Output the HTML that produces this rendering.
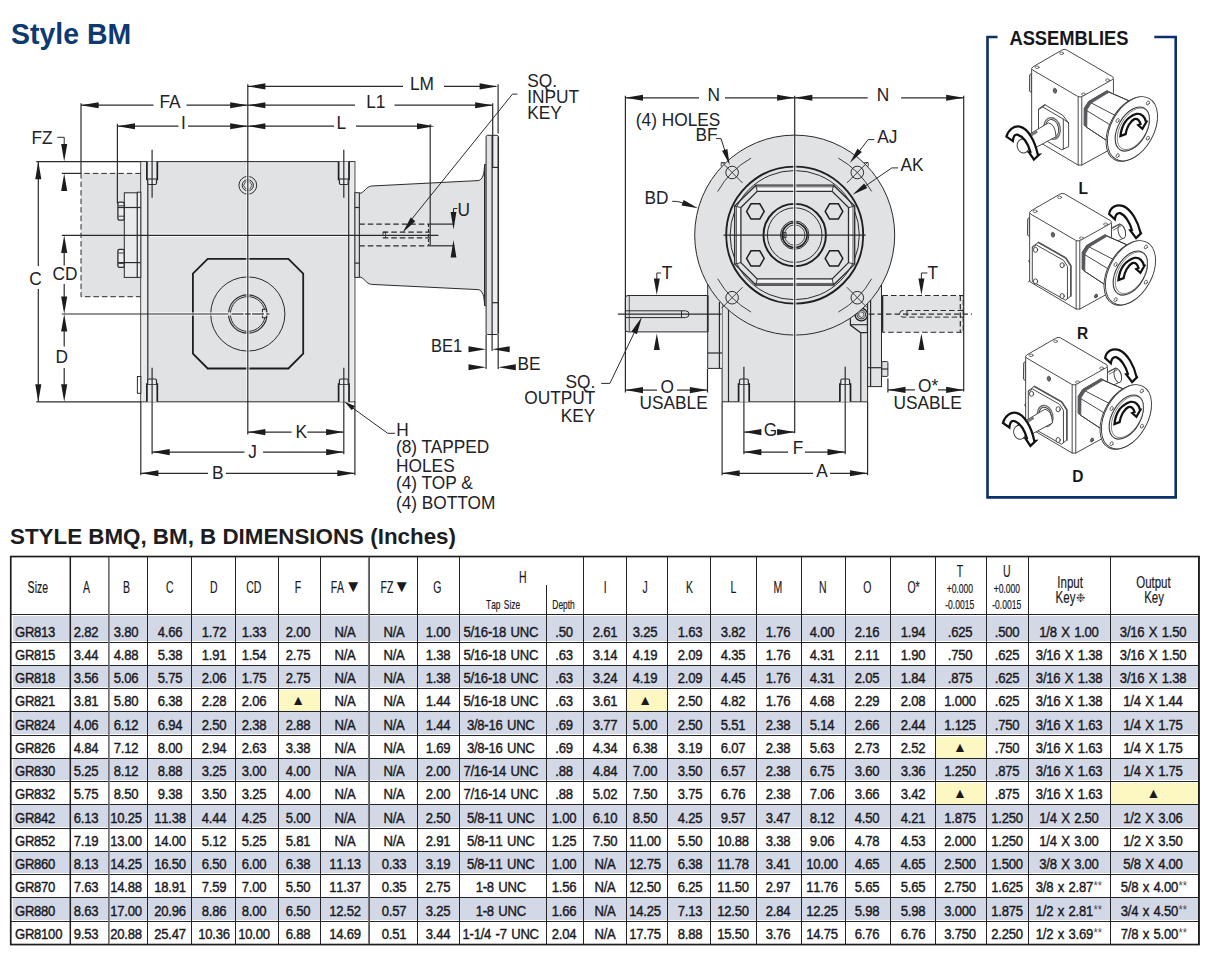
<!DOCTYPE html>
<html lang="en">
<head>
<meta charset="utf-8">
<title>Style BM - Style BMQ, BM, B Dimensions (Inches)</title>
<style>
html,body{margin:0;padding:0;background:#fff;}
body{width:1214px;height:978px;position:relative;overflow:hidden;font-family:"Liberation Sans",sans-serif;color:#222226;}
svg{position:absolute;left:0;top:0;z-index:2;pointer-events:none;}
svg text{font-family:"Liberation Sans",sans-serif;}
h1{position:absolute;left:11px;top:17px;margin:0;font-size:29px;line-height:34px;font-weight:bold;color:#0d3a70;white-space:nowrap;transform-origin:0 50%;transform:scaleX(0.981);letter-spacing:0;}
h2{position:absolute;left:10px;top:524px;margin:0;font-size:22.36px;line-height:26px;font-weight:bold;color:#1d1d21;white-space:nowrap;}

table.dim{position:absolute;left:10px;top:556px;border-collapse:collapse;table-layout:fixed;width:1188.4px;font-size:15px;color:#1a1a1e;}
table.dim td,table.dim th{border:1px solid #242428;padding:0;text-align:center;white-space:nowrap;overflow:visible;font-weight:normal;position:relative;}
table.dim th{vertical-align:top;font-size:16.3px;}
table.dim td{vertical-align:bottom;}
table.dim tr.s td{background:#d3d8e7;box-shadow:inset 0 -1px 0 0 #fff;}
table.dim tr.s.f td{box-shadow:inset 0 1px 0 0 #fff,inset 0 -1px 0 0 #fff;}
table.dim td.y{background:#fdf8c2 !important;box-shadow:inset 0 1px 0 0 #fff;}
table.dim .c{display:flex;justify-content:center;line-height:1;position:relative;}
table.dim td .c{padding-bottom:3.0px;}
table.dim tr.s td.l{box-shadow:inset 2px 0 0 0 #fff,inset 0 -1px 0 0 #fff;}
table.dim tr.s.f td.l{box-shadow:inset 2px 1px 0 0 #fff,inset 0 -1px 0 0 #fff;}
table.dim td.l .c{justify-content:flex-start;padding-left:4.1px;}
table.dim .t{display:inline-block;font-kerning:none;transform:scaleX(0.872);transform-origin:50% 50%;white-space:nowrap;letter-spacing:-0.3px;word-spacing:1.3px;-webkit-text-stroke:0.42px #1a1a1e;}
table.dim td.l .t{transform-origin:0 50%;}
table.dim th .h{position:absolute;left:0;right:0;display:flex;justify-content:center;line-height:1;}
table.dim th .t{transform:scaleX(0.645);-webkit-text-stroke:0.2px #1a1a1e;letter-spacing:0;}
table.dim th .w .t{transform:scaleX(0.705);}
table.dim th .sm{font-size:12.4px;}
table.dim th .sm .t{transform:scaleX(0.68);}
table.dim th .tol{font-size:12.2px;}
table.dim th .tol .t{transform:scaleX(0.70);}
table.dim .tri{font-size:14px;transform:none;-webkit-text-stroke:0;letter-spacing:0;position:relative;top:-0.8px;}
table.dim th .dn .t{font-size:17px;transform:none;-webkit-text-stroke:0;}
table.dim .ast{font-family:"DejaVu Sans",sans-serif;font-size:12px;display:inline-block;transform:scaleX(1.3);-webkit-text-stroke:0;transform-origin:0 50%;position:relative;top:-1px;left:0.5px;color:#444;}
table.dim .st{font-size:12.5px;color:#4a4a4e;-webkit-text-stroke:0;position:relative;top:-1.6px;letter-spacing:0;margin-left:0.6px;}
table.dim th i.div{position:absolute;width:1px;background:#242428;top:28px;bottom:0;}

</style>
</head>
<body>
<h1>Style BM</h1>
<svg width="1214" height="978" viewBox="0 0 1214 978">
<g id="view-side">
<rect x="81" y="173.4" width="59.8" height="123.3" fill="#e1e2e4" stroke="none" stroke-width="0"/>
<path d="M140.8 173.4 L81 173.4 L81 296.7 L140.8 296.7" fill="none" stroke="#2b2b2e" stroke-width="1" stroke-dasharray="5.5 3"/>
<rect x="140.8" y="161.6" width="214.1" height="240.2" fill="#e1e2e4" stroke="#2b2b2e" stroke-width="1"/>
<rect x="141.4" y="162.2" width="5.8" height="239" fill="#e9eaec" stroke="none" stroke-width="0"/>
<rect x="349.2" y="162.2" width="5.1" height="239" fill="#e9eaec" stroke="none" stroke-width="0"/>
<line x1="147.8" y1="161.6" x2="147.8" y2="401.8" stroke="#2b2b2e" stroke-width="1.2"/>
<line x1="348.7" y1="161.6" x2="348.7" y2="401.8" stroke="#2b2b2e" stroke-width="1.2"/>
<rect x="124.3" y="192.8" width="13" height="84.6" fill="#e9eaec" stroke="#2b2b2e" stroke-width="1"/>
<rect x="137.3" y="192.2" width="3.5" height="85.2" fill="#eeeef0" stroke="#2b2b2e" stroke-width="1"/>
<rect x="117.9" y="202.2" width="6.3" height="17.9" fill="#ececee" stroke="#2b2b2e" stroke-width="1.3" rx="1.6"/>
<line x1="118.5" y1="205.8" x2="124" y2="205.8" stroke="#2b2b2e" stroke-width="0.9"/>
<line x1="118.5" y1="216.2" x2="124" y2="216.2" stroke="#2b2b2e" stroke-width="0.9"/>
<rect x="117.9" y="249.4" width="6.3" height="17.9" fill="#ececee" stroke="#2b2b2e" stroke-width="1.3" rx="1.6"/>
<line x1="118.5" y1="253" x2="124" y2="253" stroke="#2b2b2e" stroke-width="0.9"/>
<line x1="118.5" y1="263.4" x2="124" y2="263.4" stroke="#2b2b2e" stroke-width="0.9"/>
<line x1="117.9" y1="207.5" x2="140.8" y2="207.5" stroke="#2b2b2e" stroke-width="1.2"/>
<line x1="117.9" y1="262.6" x2="140.8" y2="262.6" stroke="#2b2b2e" stroke-width="1.2"/>
<rect x="137.4" y="376.5" width="3.4" height="16.8" fill="#fff" stroke="#2b2b2e" stroke-width="1"/>
<rect x="146.9" y="161.6" width="10.4" height="17.8" fill="#e9eaec" stroke="none" stroke-width="0"/><path d="M146.9 161.6 L146.9 179.4 L157.3 179.4 L157.3 161.6" fill="none" stroke="#1e1e21" stroke-width="1.7"/><path d="M147.7 179.4 L147.7 183 Q147.7 184.5 149.1 184.5 L155.1 184.5 Q156.5 184.5 156.5 183 L156.5 179.4" fill="#e9eaec" stroke="#2b2b2e" stroke-width="1.2"/><line x1="152.1" y1="149.8" x2="152.1" y2="197.8" stroke="#2b2b2e" stroke-width="1.2"/>
<rect x="338.6" y="161.6" width="10.4" height="17.8" fill="#e9eaec" stroke="none" stroke-width="0"/><path d="M338.6 161.6 L338.6 179.4 L349 179.4 L349 161.6" fill="none" stroke="#1e1e21" stroke-width="1.7"/><path d="M339.4 179.4 L339.4 183 Q339.4 184.5 340.8 184.5 L346.8 184.5 Q348.2 184.5 348.2 183 L348.2 179.4" fill="#e9eaec" stroke="#2b2b2e" stroke-width="1.2"/><line x1="343.8" y1="149.8" x2="343.8" y2="197.8" stroke="#2b2b2e" stroke-width="1.2"/>
<rect x="146.9" y="384" width="10.4" height="17.8" fill="#e9eaec" stroke="none" stroke-width="0"/><path d="M146.9 401.8 L146.9 384 L157.3 384 L157.3 401.8" fill="none" stroke="#1e1e21" stroke-width="1.7"/><path d="M147.7 384 L147.7 380.5 Q147.7 379 149.1 379 L155.1 379 Q156.5 379 156.5 380.5 L156.5 384" fill="#e9eaec" stroke="#2b2b2e" stroke-width="1.2"/>
<rect x="338.6" y="384" width="10.4" height="17.8" fill="#e9eaec" stroke="none" stroke-width="0"/><path d="M338.6 401.8 L338.6 384 L349 384 L349 401.8" fill="none" stroke="#1e1e21" stroke-width="1.7"/><path d="M339.4 384 L339.4 380.5 Q339.4 379 340.8 379 L346.8 379 Q348.2 379 348.2 380.5 L348.2 384" fill="#e9eaec" stroke="#2b2b2e" stroke-width="1.2"/>
<line x1="152.1" y1="367.8" x2="152.1" y2="454.3" stroke="#2b2b2e" stroke-width="1.2"/>
<line x1="343.8" y1="367.8" x2="343.8" y2="454.3" stroke="#2b2b2e" stroke-width="1.2"/>
<circle cx="247.8" cy="185.3" r="8.9" fill="#e1e2e4" stroke="#2b2b2e" stroke-width="1"/>
<circle cx="247.8" cy="185.3" r="5.6" fill="none" stroke="#2b2b2e" stroke-width="1"/>
<path d="M252 185.3 L249.9 188.94 L245.7 188.94 L243.6 185.3 L245.7 181.66 L249.9 181.66 Z" fill="none" stroke="#2b2b2e" stroke-width="0.8"/>
<path d="M207.7 258.9 L288.4 258.9 L303.2 273.7 L303.2 353.7 L288.4 368.5 L207.7 368.5 L192.9 353.7 L192.9 273.7 Z" fill="none" stroke="#1e1e21" stroke-width="1.8"/>
<circle cx="247.8" cy="314" r="37.1" fill="none" stroke="#2b2b2e" stroke-width="1"/>
<circle cx="247.8" cy="314" r="19.2" fill="none" stroke="#2b2b2e" stroke-width="1.2"/>
<circle cx="247.8" cy="314" r="17.4" fill="none" stroke="#2b2b2e" stroke-width="1"/>
<rect x="262.4" y="309.3" width="4" height="8.4" fill="#e1e2e4" stroke="#2b2b2e" stroke-width="1"/>
<path d="M359.3 193.4 C364 193.4 366 186.3 371.7 186 L477.9 180.6 C482.5 180.3 484.5 174 484.5 164.5 L486.1 164.5 L486.1 305.7 L484.5 305.7 C484.5 296.2 482.5 289.9 477.9 289.6 L371.7 284.4 C366 284.1 364 277 359.3 277 Z" fill="#e1e2e4" stroke="#2b2b2e" stroke-width="1"/>
<line x1="484.5" y1="165" x2="484.5" y2="305.2" stroke="#2b2b2e" stroke-width="1"/>
<rect x="354.9" y="192.7" width="4.4" height="84.7" fill="#e1e2e4" stroke="#2b2b2e" stroke-width="1"/>
<line x1="354.9" y1="207.5" x2="359.3" y2="207.5" stroke="#2b2b2e" stroke-width="1.2"/>
<line x1="354.9" y1="263.1" x2="359.3" y2="263.1" stroke="#2b2b2e" stroke-width="1.2"/>
<rect x="486.1" y="135.3" width="12.2" height="199.2" fill="#e1e2e4" stroke="#2b2b2e" stroke-width="1" rx="1.5"/>
<rect x="492.1" y="136" width="5.6" height="197.8" fill="#ededef" stroke="none" stroke-width="0"/>
<line x1="492.1" y1="135.5" x2="492.1" y2="334.3" stroke="#2b2b2e" stroke-width="1.2"/>
<line x1="492.1" y1="167.4" x2="498.3" y2="167.4" stroke="#2b2b2e" stroke-width="1.2"/>
<line x1="492.1" y1="302.7" x2="498.3" y2="302.7" stroke="#2b2b2e" stroke-width="1.2"/>
<line x1="498.3" y1="136.5" x2="498.3" y2="333.5" stroke="#2b2b2e" stroke-width="1.5"/>
<line x1="359.3" y1="224.1" x2="428.5" y2="224.1" stroke="#2b2b2e" stroke-width="1.2" stroke-dasharray="5.5 3"/>
<line x1="359.3" y1="245.8" x2="428.5" y2="245.8" stroke="#2b2b2e" stroke-width="1.2" stroke-dasharray="5.5 3"/>
<line x1="382.8" y1="232.2" x2="429.7" y2="232.2" stroke="#2b2b2e" stroke-width="1.2" stroke-dasharray="5.5 3"/>
<line x1="382.8" y1="237.9" x2="429.7" y2="237.9" stroke="#2b2b2e" stroke-width="1.2" stroke-dasharray="5.5 3"/>
<line x1="428.5" y1="224.1" x2="428.5" y2="245.8" stroke="#2b2b2e" stroke-width="1.2" stroke-dasharray="3 2"/>
<path d="M387 232.2 L383 232.2 L383 235.2 M385.5 232.2 L385.5 237.9" fill="none" stroke="#2b2b2e" stroke-width="0.8"/>
<line x1="247.8" y1="162.5" x2="247.8" y2="400.5" stroke="#fff" stroke-width="3.4" opacity="0.7"/>
<line x1="149" y1="235.3" x2="347.5" y2="235.3" stroke="#fff" stroke-width="3.4" opacity="0.7"/>
<line x1="149" y1="314" x2="269.5" y2="314" stroke="#fff" stroke-width="3.4" opacity="0.7"/>
<line x1="247.8" y1="84.2" x2="247.8" y2="434.6" stroke="#2b2b2e" stroke-width="1.2"/>
<line x1="61.8" y1="235.3" x2="438.4" y2="235.3" stroke="#2b2b2e" stroke-width="1.2"/>
<line x1="61.8" y1="314" x2="228" y2="314" stroke="#2b2b2e" stroke-width="1.2"/>
<line x1="231.5" y1="314" x2="243.5" y2="314" stroke="#2b2b2e" stroke-width="1.2"/>
<line x1="252" y1="314" x2="264" y2="314" stroke="#2b2b2e" stroke-width="1.2"/>
<line x1="266.5" y1="314" x2="269.5" y2="314" stroke="#2b2b2e" stroke-width="1.2"/>
<line x1="244.8" y1="314" x2="250.8" y2="314" stroke="#2b2b2e" stroke-width="1.2"/>
<line x1="36.3" y1="161.6" x2="140.8" y2="161.6" stroke="#2b2b2e" stroke-width="1.2"/>
<line x1="36.3" y1="401.8" x2="140.8" y2="401.8" stroke="#2b2b2e" stroke-width="1.2"/>
<line x1="38.3" y1="161.6" x2="38.3" y2="266" stroke="#2b2b2e" stroke-width="1.2"/>
<line x1="38.3" y1="289" x2="38.3" y2="401.8" stroke="#2b2b2e" stroke-width="1.2"/>
<polygon points="38.3,161.6 41.35,179.2 35.25,179.2" fill="#1c1c1f"/>
<polygon points="38.3,401.8 35.25,384.2 41.35,384.2" fill="#1c1c1f"/>
<text transform="translate(29.2 284.9) scale(1.0 1.04)" font-size="17.3" text-anchor="start" font-weight="normal" fill="#222226">C</text>
<line x1="61.8" y1="173.4" x2="81" y2="173.4" stroke="#2b2b2e" stroke-width="1.2"/>
<path d="M57.3 137.3 L64.2 137.3 L64.2 150" fill="none" stroke="#2b2b2e" stroke-width="1"/>
<polygon points="64.2,161.6 61.15,144 67.25,144" fill="#1c1c1f"/>
<polygon points="64.2,173.4 67.25,191 61.15,191" fill="#1c1c1f"/>
<text transform="translate(31.4 144) scale(1.0 1.04)" font-size="17.3" text-anchor="start" font-weight="normal" fill="#222226">FZ</text>
<polygon points="64.2,235.3 67.25,252.9 61.15,252.9" fill="#1c1c1f"/>
<line x1="64.2" y1="250" x2="64.2" y2="265.5" stroke="#2b2b2e" stroke-width="1.2"/>
<text transform="translate(52.4 280) scale(1.0 1.04)" font-size="17.3" text-anchor="start" font-weight="normal" fill="#222226">CD</text>
<line x1="64.2" y1="284" x2="64.2" y2="300" stroke="#2b2b2e" stroke-width="1.2"/>
<polygon points="64.2,314 61.15,296.4 67.25,296.4" fill="#1c1c1f"/>
<polygon points="64.2,314 67.25,331.6 61.15,331.6" fill="#1c1c1f"/>
<line x1="64.2" y1="330" x2="64.2" y2="346.5" stroke="#2b2b2e" stroke-width="1.2"/>
<text transform="translate(55.6 363.4) scale(1.0 1.04)" font-size="17.3" text-anchor="start" font-weight="normal" fill="#222226">D</text>
<line x1="64.2" y1="368" x2="64.2" y2="386" stroke="#2b2b2e" stroke-width="1.2"/>
<polygon points="64.2,401.8 61.15,384.2 67.25,384.2" fill="#1c1c1f"/>
<line x1="81" y1="103.2" x2="81" y2="173.4" stroke="#2b2b2e" stroke-width="1.2"/>
<line x1="81" y1="105.2" x2="153.5" y2="105.2" stroke="#2b2b2e" stroke-width="1.2"/>
<line x1="186.5" y1="105.2" x2="247.8" y2="105.2" stroke="#2b2b2e" stroke-width="1.2"/>
<polygon points="81,105.2 98.6,102.15 98.6,108.25" fill="#1c1c1f"/>
<polygon points="247.8,105.2 230.2,108.25 230.2,102.15" fill="#1c1c1f"/>
<text transform="translate(159.4 108.2) scale(1.0 1.04)" font-size="17.3" text-anchor="start" font-weight="normal" fill="#222226">FA</text>
<line x1="117.4" y1="123.8" x2="117.4" y2="203.3" stroke="#2b2b2e" stroke-width="1.2"/>
<line x1="117.4" y1="126.2" x2="178.5" y2="126.2" stroke="#2b2b2e" stroke-width="1.2"/>
<line x1="188" y1="126.2" x2="247.8" y2="126.2" stroke="#2b2b2e" stroke-width="1.2"/>
<polygon points="117.4,126.2 135,123.15 135,129.25" fill="#1c1c1f"/>
<polygon points="247.8,126.2 230.2,129.25 230.2,123.15" fill="#1c1c1f"/>
<text transform="translate(181 129.2) scale(1.0 1.04)" font-size="17.3" text-anchor="start" font-weight="normal" fill="#222226">I</text>
<line x1="247.8" y1="86.4" x2="403" y2="86.4" stroke="#2b2b2e" stroke-width="1.2"/>
<line x1="444" y1="86.4" x2="496.4" y2="86.4" stroke="#2b2b2e" stroke-width="1.2"/>
<polygon points="247.8,86.4 265.4,83.35 265.4,89.45" fill="#1c1c1f"/>
<polygon points="497.2,86.4 479.6,89.45 479.6,83.35" fill="#1c1c1f"/>
<line x1="498.1" y1="84.2" x2="498.1" y2="133.6" stroke="#2b2b2e" stroke-width="1.2"/>
<text transform="translate(410 89.7) scale(1.0 1.04)" font-size="17.3" text-anchor="start" font-weight="normal" fill="#222226">LM</text>
<line x1="247.8" y1="105.2" x2="355" y2="105.2" stroke="#2b2b2e" stroke-width="1.2"/>
<line x1="394.5" y1="105.2" x2="492.7" y2="105.2" stroke="#2b2b2e" stroke-width="1.2"/>
<polygon points="247.8,105.2 265.4,102.15 265.4,108.25" fill="#1c1c1f"/>
<polygon points="492.7,105.2 475.1,108.25 475.1,102.15" fill="#1c1c1f"/>
<line x1="492.7" y1="103.2" x2="492.7" y2="167.5" stroke="#2b2b2e" stroke-width="1.2"/>
<text transform="translate(366.2 108.2) scale(1.0 1.04)" font-size="17.3" text-anchor="start" font-weight="normal" fill="#222226">L1</text>
<line x1="247.8" y1="126.2" x2="334" y2="126.2" stroke="#2b2b2e" stroke-width="1.2"/>
<line x1="356" y1="126.2" x2="425" y2="126.2" stroke="#2b2b2e" stroke-width="1.2"/>
<polygon points="247.8,126.2 265.4,123.15 265.4,129.25" fill="#1c1c1f"/>
<polygon points="434.6,126.2 417,129.25 417,123.15" fill="#1c1c1f"/>
<line x1="430.2" y1="124.2" x2="430.2" y2="245.3" stroke="#2b2b2e" stroke-width="1.2"/>
<text transform="translate(336.6 128.7) scale(1.0 1.04)" font-size="17.3" text-anchor="start" font-weight="normal" fill="#222226">L</text>
<line x1="428.5" y1="224.1" x2="454.4" y2="224.1" stroke="#2b2b2e" stroke-width="1.2"/>
<line x1="428.5" y1="245.8" x2="454.4" y2="245.8" stroke="#2b2b2e" stroke-width="1.2"/>
<path d="M457.4 208.5 L453.5 208.5 L453.5 213" fill="none" stroke="#2b2b2e" stroke-width="1"/>
<polygon points="453.5,229.5 450.6,212 456.4,212" fill="#1c1c1f"/>
<polygon points="453.5,240.1 456.4,257.6 450.6,257.6" fill="#1c1c1f"/>
<text transform="translate(457.4 215.7) scale(1.0 1.04)" font-size="17.3" text-anchor="start" font-weight="normal" fill="#222226">U</text>
<path d="M517.4 94.1 L512.5 94.1 L411 220" fill="none" stroke="#2b2b2e" stroke-width="1"/>
<polygon points="402.7,232.4 410.75,217.6 415.29,221.2" fill="#1c1c1f"/>
<text transform="translate(527.3 86.7) scale(1.0 1.04)" font-size="17.3" text-anchor="start" font-weight="normal" fill="#222226">SQ.</text>
<text transform="translate(527.3 103.2) scale(1.0 1.04)" font-size="17.3" text-anchor="start" font-weight="normal" fill="#222226">INPUT</text>
<text transform="translate(527.3 119.3) scale(1.0 1.04)" font-size="17.3" text-anchor="start" font-weight="normal" fill="#222226">KEY</text>
<line x1="486.1" y1="334.5" x2="486.1" y2="369" stroke="#2b2b2e" stroke-width="1.2"/>
<line x1="492.1" y1="334.5" x2="492.1" y2="351" stroke="#2b2b2e" stroke-width="1.2"/>
<line x1="498.2" y1="334.5" x2="498.2" y2="369" stroke="#2b2b2e" stroke-width="1.2"/>
<polygon points="486.1,349.3 468.5,352.35 468.5,346.25" fill="#1c1c1f"/>
<polygon points="492.1,349.3 509.7,346.25 509.7,352.35" fill="#1c1c1f"/>
<polygon points="486.1,367.3 468.5,370.35 468.5,364.25" fill="#1c1c1f"/>
<polygon points="498.2,367.3 515.8,364.25 515.8,370.35" fill="#1c1c1f"/>
<text transform="translate(430.9 351.8) scale(0.955 1.04)" font-size="17.3" text-anchor="start" font-weight="normal" fill="#222226">BE1</text>
<text transform="translate(517.4 369.6) scale(1.0 1.04)" font-size="17.3" text-anchor="start" font-weight="normal" fill="#222226">BE</text>
<line x1="247.8" y1="432.1" x2="291.6" y2="432.1" stroke="#2b2b2e" stroke-width="1.2"/>
<line x1="307.4" y1="432.1" x2="343.7" y2="432.1" stroke="#2b2b2e" stroke-width="1.2"/>
<polygon points="247.8,432.1 265.4,429.05 265.4,435.15" fill="#1c1c1f"/>
<polygon points="343.7,432.1 326.1,435.15 326.1,429.05" fill="#1c1c1f"/>
<text transform="translate(295.5 438) scale(1.0 1.04)" font-size="17.3" text-anchor="start" font-weight="normal" fill="#222226">K</text>
<line x1="152.1" y1="452.1" x2="244.5" y2="452.1" stroke="#2b2b2e" stroke-width="1.2"/>
<line x1="263" y1="452.1" x2="343.8" y2="452.1" stroke="#2b2b2e" stroke-width="1.2"/>
<polygon points="152.1,452.1 169.7,449.05 169.7,455.15" fill="#1c1c1f"/>
<polygon points="343.8,452.1 326.2,455.15 326.2,449.05" fill="#1c1c1f"/>
<text transform="translate(248.3 458) scale(1.0 1.04)" font-size="17.3" text-anchor="start" font-weight="normal" fill="#222226">J</text>
<line x1="140.8" y1="401.8" x2="140.8" y2="475.3" stroke="#2b2b2e" stroke-width="1.2"/>
<line x1="354.9" y1="401.8" x2="354.9" y2="475.3" stroke="#2b2b2e" stroke-width="1.2"/>
<line x1="140.8" y1="473.3" x2="208" y2="473.3" stroke="#2b2b2e" stroke-width="1.2"/>
<line x1="226" y1="473.3" x2="354.9" y2="473.3" stroke="#2b2b2e" stroke-width="1.2"/>
<polygon points="140.8,473.3 158.4,470.25 158.4,476.35" fill="#1c1c1f"/>
<polygon points="354.9,473.3 337.3,476.35 337.3,470.25" fill="#1c1c1f"/>
<text transform="translate(212 479) scale(1.0 1.04)" font-size="17.3" text-anchor="start" font-weight="normal" fill="#222226">B</text>
<path d="M395.1 433.3 L387.7 433.3 L352 407.5" fill="none" stroke="#2b2b2e" stroke-width="1"/>
<polygon points="344.5,401.7 354.91,406.1 351.84,410.29" fill="#1c1c1f"/>
<text transform="translate(396.3 436.1) scale(1.0 1.04)" font-size="17.3" text-anchor="start" font-weight="normal" fill="#222226">H</text>
<text transform="translate(395.9 453.4) scale(1.0 1.04)" font-size="17.3" text-anchor="start" font-weight="normal" fill="#222226">(8) TAPPED</text>
<text transform="translate(396.1 471.9) scale(1.0 1.04)" font-size="17.3" text-anchor="start" font-weight="normal" fill="#222226">HOLES</text>
<text transform="translate(395.9 489.2) scale(1.0 1.04)" font-size="17.3" text-anchor="start" font-weight="normal" fill="#222226">(4) TOP &amp;</text>
<text transform="translate(395.9 508.8) scale(1.0 1.04)" font-size="17.3" text-anchor="start" font-weight="normal" fill="#222226">(4) BOTTOM</text>
<text transform="translate(595.3 387.6) scale(1.0 1.04)" font-size="17.3" text-anchor="end" font-weight="normal" fill="#222226">SQ.</text>
<text transform="translate(595.3 404.3) scale(1.0 1.04)" font-size="17.3" text-anchor="end" font-weight="normal" fill="#222226">OUTPUT</text>
<text transform="translate(595.3 421.5) scale(1.0 1.04)" font-size="17.3" text-anchor="end" font-weight="normal" fill="#222226">KEY</text>
</g>
<g id="view-front">
<path d="M722.1 300 L722.1 401.8 L867.6 401.8 L867.6 300" fill="#e1e2e4" stroke="#2b2b2e" stroke-width="1"/>
<rect x="867.6" y="284.5" width="13.9" height="102.1" fill="#e1e2e4" stroke="#2b2b2e" stroke-width="1"/>
<line x1="870.6" y1="300" x2="870.6" y2="386.6" stroke="#2b2b2e" stroke-width="1.2"/>
<line x1="867.6" y1="367.7" x2="881.5" y2="367.7" stroke="#2b2b2e" stroke-width="1.2"/>
<rect x="881.8" y="361.6" width="6.1" height="14.8" fill="#e1e2e4" stroke="#2b2b2e" stroke-width="1" rx="1"/>
<line x1="881.8" y1="369" x2="887.9" y2="369" stroke="#2b2b2e" stroke-width="1.2"/>
<path d="M722.1 284.3 L707.7 284.3 L707.7 368.4 L722.1 368.4" fill="#e1e2e4" stroke="#2b2b2e" stroke-width="1"/>
<line x1="719.4" y1="302" x2="719.4" y2="368.4" stroke="#2b2b2e" stroke-width="1.2"/>
<line x1="707.7" y1="353" x2="722.1" y2="353" stroke="#2b2b2e" stroke-width="1.2"/>
<path d="M707.7 295.5 L628 295.5 Q625.4 295.5 625.4 298 L625.4 329.4 Q625.4 331.9 628 331.9 L707.7 331.9 Z" fill="#e1e2e4" stroke="#2b2b2e" stroke-width="1"/>
<line x1="629.3" y1="296" x2="629.3" y2="331.5" stroke="#2b2b2e" stroke-width="0.8"/>
<path d="M625.4 310.8 L685.5 310.8 A3.5 3.4 0 0 1 685.5 317.6 L625.4 317.6 M681.5 310.8 L681.5 317.6" fill="none" stroke="#2b2b2e" stroke-width="1"/>
<line x1="707.7" y1="295.5" x2="707.7" y2="331.9" stroke="#2b2b2e" stroke-width="1.6"/>
<rect x="882.5" y="295.5" width="80.7" height="36.8" fill="#e1e2e4" stroke="none" stroke-width="0"/>
<path d="M882.5 295.5 L963.2 295.5 L963.2 332.3 L882.5 332.3" fill="none" stroke="#2b2b2e" stroke-width="1" stroke-dasharray="5.5 3"/>
<line x1="960.3" y1="295.5" x2="960.3" y2="332.3" stroke="#2b2b2e" stroke-width="1.2" stroke-dasharray="5.5 3"/>
<path d="M963 310.5 L903 310.5 A3.4 3.3 0 0 0 903 317.1 L963 317.1 M907 310.5 L907 317.1" fill="none" stroke="#2b2b2e" stroke-width="1" stroke-dasharray="5.5 3"/>
<line x1="882.5" y1="295.5" x2="882.5" y2="332.3" stroke="#2b2b2e" stroke-width="1.6"/>
<line x1="869" y1="314.1" x2="972" y2="314.1" stroke="#2b2b2e" stroke-width="1.2" stroke-dasharray="5.5 3"/>
<line x1="728.5" y1="309" x2="728.5" y2="401.8" stroke="#2b2b2e" stroke-width="1.2"/>
<line x1="860.8" y1="332.6" x2="860.8" y2="401.8" stroke="#2b2b2e" stroke-width="1.2"/>
<path d="M850.4 312 L850.4 325.1 L860.4 332.6 L867.4 332.6 L867.4 312" fill="#e1e2e4" stroke="#2b2b2e" stroke-width="1.2"/>
<line x1="850.4" y1="324.7" x2="867.2" y2="324.7" stroke="#2b2b2e" stroke-width="1.1"/>
<circle cx="861.3" cy="314.6" r="6.3" fill="#e1e2e4" stroke="#1e1e21" stroke-width="1.4"/>
<circle cx="861.3" cy="314.6" r="4.3" fill="none" stroke="#2b2b2e" stroke-width="1.0"/>
<path d="M864.03 315.59 L861.8 317.46 L859.08 316.46 L858.57 313.61 L860.8 311.74 L863.52 312.74 Z" fill="none" stroke="#2b2b2e" stroke-width="0.8"/>
<circle cx="794.7" cy="235.1" r="100" fill="#e1e2e4" stroke="#2b2b2e" stroke-width="1"/>
<path d="M725.2 162.6 L721.2 162.6 L721.2 166.6" fill="none" stroke="#2b2b2e" stroke-width="0.9"/>
<path d="M864.2 162.6 L868.2 162.6 L868.2 166.6" fill="none" stroke="#2b2b2e" stroke-width="0.9"/>
<circle cx="794.7" cy="235.1" r="68.5" fill="none" stroke="#1e1e21" stroke-width="1.9"/>
<circle cx="794.7" cy="235.1" r="64.6" fill="none" stroke="#2b2b2e" stroke-width="1"/>
<path d="M755.9 185.2 L833.5 185.2 L832.2 191.3 L757.2 191.3 Z" fill="#f6f6f7" stroke="none" stroke-width="0"/>
<path d="M854.7 206.1 L854.7 264.1 L848.5 262.6 L848.5 207.6 Z" fill="#f6f6f7" stroke="none" stroke-width="0"/>
<path d="M833.5 285 L755.9 285 L757.2 278.9 L832.2 278.9 Z" fill="#f6f6f7" stroke="none" stroke-width="0"/>
<path d="M734.7 264.1 L734.7 206.1 L740.9 207.6 L740.9 262.6 Z" fill="#f6f6f7" stroke="none" stroke-width="0"/>
<path d="M755.9 185.2 L833.5 185.2 L854.7 206.1 L854.7 264.1 L833.5 285 L755.9 285 L734.7 264.1 L734.7 206.1 Z" fill="none" stroke="#2b2b2e" stroke-width="1.3"/>
<path d="M757.2 191.3 L832.2 191.3 L848.5 207.6 L848.5 262.6 L832.2 278.9 L757.2 278.9 L740.9 262.6 L740.9 207.6 Z" fill="none" stroke="#2b2b2e" stroke-width="1.3"/>
<line x1="755.2" y1="186.8" x2="834.2" y2="186.8" stroke="#2b2b2e" stroke-width="0.8"/>
<line x1="755.2" y1="283.4" x2="834.2" y2="283.4" stroke="#2b2b2e" stroke-width="0.8"/>
<line x1="736.4" y1="206.1" x2="736.4" y2="264.1" stroke="#2b2b2e" stroke-width="0.8"/>
<line x1="853" y1="206.1" x2="853" y2="264.1" stroke="#2b2b2e" stroke-width="0.8"/>
<line x1="755.9" y1="185.2" x2="757.2" y2="191.3" stroke="#2b2b2e" stroke-width="0.9"/>
<line x1="833.5" y1="185.2" x2="832.2" y2="191.3" stroke="#2b2b2e" stroke-width="0.9"/>
<line x1="854.7" y1="206.1" x2="848.5" y2="207.6" stroke="#2b2b2e" stroke-width="0.9"/>
<line x1="854.7" y1="264.1" x2="848.5" y2="262.6" stroke="#2b2b2e" stroke-width="0.9"/>
<line x1="833.5" y1="285" x2="832.2" y2="278.9" stroke="#2b2b2e" stroke-width="0.9"/>
<line x1="755.9" y1="285" x2="757.2" y2="278.9" stroke="#2b2b2e" stroke-width="0.9"/>
<line x1="734.7" y1="264.1" x2="740.9" y2="262.6" stroke="#2b2b2e" stroke-width="0.9"/>
<line x1="734.7" y1="206.1" x2="740.9" y2="207.6" stroke="#2b2b2e" stroke-width="0.9"/>
<path d="M764.2 211.4 L759.8 219.02 L751 219.02 L746.6 211.4 L751 203.78 L759.8 203.78 Z" fill="none" stroke="#1e1e21" stroke-width="1.5"/>
<path d="M842.8 211.4 L838.4 219.02 L829.6 219.02 L825.2 211.4 L829.6 203.78 L838.4 203.78 Z" fill="none" stroke="#1e1e21" stroke-width="1.5"/>
<path d="M764.2 258.4 L759.8 266.02 L751 266.02 L746.6 258.4 L751 250.78 L759.8 250.78 Z" fill="none" stroke="#1e1e21" stroke-width="1.5"/>
<path d="M842.8 258.4 L838.4 266.02 L829.6 266.02 L825.2 258.4 L829.6 250.78 L838.4 250.78 Z" fill="none" stroke="#1e1e21" stroke-width="1.5"/>
<circle cx="794.7" cy="235.1" r="31.2" fill="none" stroke="#1e1e21" stroke-width="1.9"/>
<circle cx="794.7" cy="235.1" r="27.3" fill="none" stroke="#2b2b2e" stroke-width="1"/>
<circle cx="794.7" cy="235.1" r="14.2" fill="none" stroke="#2b2b2e" stroke-width="1"/>
<circle cx="794.7" cy="235.1" r="12.4" fill="none" stroke="#1e1e21" stroke-width="1.6"/>
<circle cx="794.7" cy="235.1" r="10.2" fill="none" stroke="#2b2b2e" stroke-width="0.8"/>
<rect x="783.4" y="232.6" width="2.7" height="5" fill="none" stroke="#2b2b2e" stroke-width="0.8"/>
<circle cx="732.1" cy="172.5" r="6.3" fill="none" stroke="#2b2b2e" stroke-width="1"/>
<line x1="742.6" y1="183" x2="721.6" y2="162" stroke="#2b2b2e" stroke-width="0.9"/>
<path d="M717.7 191.48 A88.5 88.5 0 0 1 751.08 158.1" fill="none" stroke="#2b2b2e" stroke-width="0.9"/>
<circle cx="732.1" cy="297.7" r="6.3" fill="none" stroke="#2b2b2e" stroke-width="1"/>
<line x1="742.6" y1="287.2" x2="721.6" y2="308.2" stroke="#2b2b2e" stroke-width="0.9"/>
<path d="M751.08 312.1 A88.5 88.5 0 0 1 717.7 278.72" fill="none" stroke="#2b2b2e" stroke-width="0.9"/>
<circle cx="857.3" cy="172.5" r="6.3" fill="none" stroke="#2b2b2e" stroke-width="1"/>
<line x1="846.8" y1="183" x2="867.8" y2="162" stroke="#2b2b2e" stroke-width="0.9"/>
<path d="M838.32 158.1 A88.5 88.5 0 0 1 871.7 191.48" fill="none" stroke="#2b2b2e" stroke-width="0.9"/>
<circle cx="857.3" cy="297.7" r="6.3" fill="none" stroke="#2b2b2e" stroke-width="1"/>
<line x1="846.8" y1="287.2" x2="867.8" y2="308.2" stroke="#2b2b2e" stroke-width="0.9"/>
<path d="M871.7 278.72 A88.5 88.5 0 0 1 838.32 312.1" fill="none" stroke="#2b2b2e" stroke-width="0.9"/>
<rect x="738.6" y="384" width="10.6" height="17.8" fill="#e9eaec" stroke="none" stroke-width="0"/>
<path d="M738.6 401.8 L738.6 384 L749.2 384 L749.2 401.8" fill="none" stroke="#1e1e21" stroke-width="1.7"/>
<path d="M739.5 384 L739.5 380.5 Q739.5 379 740.9 379 L746.9 379 Q748.3 379 748.3 380.5 L748.3 384" fill="#e9eaec" stroke="#2b2b2e" stroke-width="1.2"/>
<line x1="743.9" y1="366.8" x2="743.9" y2="454.3" stroke="#2b2b2e" stroke-width="1.2"/>
<rect x="839.9" y="384" width="10.6" height="17.8" fill="#e9eaec" stroke="none" stroke-width="0"/>
<path d="M839.9 401.8 L839.9 384 L850.5 384 L850.5 401.8" fill="none" stroke="#1e1e21" stroke-width="1.7"/>
<path d="M840.8 384 L840.8 380.5 Q840.8 379 842.2 379 L848.2 379 Q849.6 379 849.6 380.5 L849.6 384" fill="#e9eaec" stroke="#2b2b2e" stroke-width="1.2"/>
<line x1="845.2" y1="366.8" x2="845.2" y2="454.3" stroke="#2b2b2e" stroke-width="1.2"/>
<line x1="794.7" y1="136.5" x2="794.7" y2="400.5" stroke="#fff" stroke-width="3.4" opacity="0.7"/>
<line x1="794.7" y1="95.8" x2="794.7" y2="433.3" stroke="#2b2b2e" stroke-width="1.2"/>
<line x1="723.5" y1="235.1" x2="865.6" y2="235.1" stroke="#2b2b2e" stroke-width="1.2"/>
<line x1="617.9" y1="314.1" x2="721.6" y2="314.1" stroke="#2b2b2e" stroke-width="1.2"/>
<line x1="625.4" y1="95.8" x2="625.4" y2="392.5" stroke="#2b2b2e" stroke-width="1.2"/>
<line x1="963.7" y1="95.8" x2="963.7" y2="391.6" stroke="#2b2b2e" stroke-width="1.2"/>
<line x1="625.4" y1="97.8" x2="699" y2="97.8" stroke="#2b2b2e" stroke-width="1.2"/>
<line x1="725" y1="97.8" x2="794.7" y2="97.8" stroke="#2b2b2e" stroke-width="1.2"/>
<line x1="794.7" y1="97.8" x2="867.7" y2="97.8" stroke="#2b2b2e" stroke-width="1.2"/>
<line x1="901.1" y1="97.8" x2="963.7" y2="97.8" stroke="#2b2b2e" stroke-width="1.2"/>
<polygon points="625.4,97.8 643,94.75 643,100.85" fill="#1c1c1f"/>
<polygon points="794.7,97.8 777.1,100.85 777.1,94.75" fill="#1c1c1f"/>
<polygon points="794.7,97.8 812.3,94.75 812.3,100.85" fill="#1c1c1f"/>
<polygon points="963.7,97.8 946.1,100.85 946.1,94.75" fill="#1c1c1f"/>
<text transform="translate(707.5 100.8) scale(1.0 1.04)" font-size="17.3" text-anchor="start" font-weight="normal" fill="#222226">N</text>
<text transform="translate(876.7 100.8) scale(1.0 1.04)" font-size="17.3" text-anchor="start" font-weight="normal" fill="#222226">N</text>
<text transform="translate(635.8 125.5) scale(1.0 1.04)" font-size="17.3" text-anchor="start" font-weight="normal" fill="#222226">(4) HOLES</text>
<text transform="translate(695.6 141) scale(1.0 1.04)" font-size="17.3" text-anchor="start" font-weight="normal" fill="#222226">BF</text>
<path d="M716.1 138.6 L721 138.6 L726.6 156" fill="none" stroke="#2b2b2e" stroke-width="1"/>
<polygon points="729.7,165 722.03,150.68 727.35,148.93" fill="#1c1c1f"/>
<text transform="translate(644.5 204) scale(1.0 1.04)" font-size="17.3" text-anchor="start" font-weight="normal" fill="#222226">BD</text>
<path d="M672.2 201.3 C678 201 682 202.5 688 205" fill="none" stroke="#2b2b2e" stroke-width="1"/>
<polygon points="698.1,208.3 681.6,205.38 683.59,199.93" fill="#1c1c1f"/>
<text transform="translate(877.2 142.8) scale(1.0 1.04)" font-size="17.3" text-anchor="start" font-weight="normal" fill="#222226">AJ</text>
<path d="M874.3 139.6 L868.1 139.6 L856 155.5" fill="none" stroke="#2b2b2e" stroke-width="1"/>
<polygon points="849.8,163 857.45,148.67 861.86,152.12" fill="#1c1c1f"/>
<text transform="translate(900.5 170.9) scale(1.0 1.04)" font-size="17.3" text-anchor="start" font-weight="normal" fill="#222226">AK</text>
<path d="M898.2 167.9 L891.9 167.9 L863 187.6" fill="none" stroke="#2b2b2e" stroke-width="1"/>
<polygon points="852.5,194.7 864.15,183.39 867.3,188.02" fill="#1c1c1f"/>
<path d="M661 273 L656.8 273 L656.8 280" fill="none" stroke="#2b2b2e" stroke-width="1"/>
<polygon points="656.8,294.9 653.8,278.4 659.8,278.4" fill="#1c1c1f"/>
<polygon points="656.8,333.4 659.8,349.9 653.8,349.9" fill="#1c1c1f"/>
<text transform="translate(661.8 278.7) scale(1.0 1.04)" font-size="17.3" text-anchor="start" font-weight="normal" fill="#222226">T</text>
<path d="M927.4 273 L921.4 273 L921.4 280" fill="none" stroke="#2b2b2e" stroke-width="1"/>
<polygon points="921.4,294.9 918.4,278.4 924.4,278.4" fill="#1c1c1f"/>
<polygon points="921.4,333.4 924.4,349.9 918.4,349.9" fill="#1c1c1f"/>
<text transform="translate(927.4 278.7) scale(1.0 1.04)" font-size="17.3" text-anchor="start" font-weight="normal" fill="#222226">T</text>
<line x1="707.5" y1="369" x2="707.5" y2="392.5" stroke="#2b2b2e" stroke-width="1.2"/>
<line x1="625.4" y1="390.1" x2="657" y2="390.1" stroke="#2b2b2e" stroke-width="1.2"/>
<line x1="677" y1="390.1" x2="707.5" y2="390.1" stroke="#2b2b2e" stroke-width="1.2"/>
<polygon points="625.4,390.1 643,387.05 643,393.15" fill="#1c1c1f"/>
<polygon points="707.5,390.1 689.9,393.15 689.9,387.05" fill="#1c1c1f"/>
<text transform="translate(660.5 392.5) scale(1.0 1.04)" font-size="17.3" text-anchor="start" font-weight="normal" fill="#222226">O</text>
<text transform="translate(639.5 408.6) scale(1.0 1.04)" font-size="17.3" text-anchor="start" font-weight="normal" fill="#222226">USABLE</text>
<line x1="887.9" y1="378.4" x2="887.9" y2="392.5" stroke="#2b2b2e" stroke-width="1.2"/>
<line x1="887.9" y1="389.9" x2="915" y2="389.9" stroke="#2b2b2e" stroke-width="1.2"/>
<line x1="938" y1="389.9" x2="963.7" y2="389.9" stroke="#2b2b2e" stroke-width="1.2"/>
<polygon points="887.9,389.9 905.5,386.85 905.5,392.95" fill="#1c1c1f"/>
<polygon points="963.7,389.9 946.1,392.95 946.1,386.85" fill="#1c1c1f"/>
<text transform="translate(918 391.6) scale(1.0 1.04)" font-size="17.3" text-anchor="start" font-weight="normal" fill="#222226">O*</text>
<text transform="translate(893.5 408.6) scale(1.0 1.04)" font-size="17.3" text-anchor="start" font-weight="normal" fill="#222226">USABLE</text>
<path d="M601.2 383.4 L609.9 383.4 L636 329" fill="none" stroke="#2b2b2e" stroke-width="1"/>
<polygon points="642,316.7 636.9,334.22 631.49,331.62" fill="#1c1c1f"/>
<line x1="743.8" y1="432.1" x2="761" y2="432.1" stroke="#2b2b2e" stroke-width="1.2"/>
<line x1="778" y1="432.1" x2="794.7" y2="432.1" stroke="#2b2b2e" stroke-width="1.2"/>
<polygon points="743.8,432.1 761.4,429.05 761.4,435.15" fill="#1c1c1f"/>
<polygon points="794.7,432.1 777.1,435.15 777.1,429.05" fill="#1c1c1f"/>
<text transform="translate(763.8 435.8) scale(1.0 1.04)" font-size="17.3" text-anchor="start" font-weight="normal" fill="#222226">G</text>
<line x1="743.8" y1="452.1" x2="788" y2="452.1" stroke="#2b2b2e" stroke-width="1.2"/>
<line x1="805" y1="452.1" x2="845.1" y2="452.1" stroke="#2b2b2e" stroke-width="1.2"/>
<polygon points="743.8,452.1 761.4,449.05 761.4,455.15" fill="#1c1c1f"/>
<polygon points="845.1,452.1 827.5,455.15 827.5,449.05" fill="#1c1c1f"/>
<text transform="translate(792.7 454.3) scale(1.0 1.04)" font-size="17.3" text-anchor="start" font-weight="normal" fill="#222226">F</text>
<line x1="722.1" y1="401.8" x2="722.1" y2="475.3" stroke="#2b2b2e" stroke-width="1.2"/>
<line x1="867.6" y1="401.8" x2="867.6" y2="475.3" stroke="#2b2b2e" stroke-width="1.2"/>
<line x1="722.1" y1="473.3" x2="813" y2="473.3" stroke="#2b2b2e" stroke-width="1.2"/>
<line x1="830" y1="473.3" x2="867.6" y2="473.3" stroke="#2b2b2e" stroke-width="1.2"/>
<polygon points="722.1,473.3 739.7,470.25 739.7,476.35" fill="#1c1c1f"/>
<polygon points="867.6,473.3 850,476.35 850,470.25" fill="#1c1c1f"/>
<text transform="translate(816.2 476.6) scale(1.0 1.04)" font-size="17.3" text-anchor="start" font-weight="normal" fill="#222226">A</text>
</g>
<g id="assemblies">
<path d="M997.5 37 L987.5 37 L987.5 497.4 L1175.7 497.4 L1175.7 37 L1154.3 37" fill="none" stroke="#0d2f6b" stroke-width="2.6" stroke-linejoin="miter"/>
<text transform="translate(1009.4 44.8) scale(0.966 1.04)" font-size="19" text-anchor="start" font-weight="bold" fill="#17171b">ASSEMBLIES</text>
<text transform="translate(1078.6 194.2) scale(1.0 1.04)" font-size="15.5" text-anchor="start" font-weight="bold" fill="#17171b">L</text>
<text transform="translate(1077 338.8) scale(1.0 1.04)" font-size="15.5" text-anchor="start" font-weight="bold" fill="#17171b">R</text>
<text transform="translate(1072.2 481.8) scale(1.0 1.04)" font-size="15.5" text-anchor="start" font-weight="bold" fill="#17171b">D</text>
<g transform="translate(1000 40) scale(0.14004)" stroke="#3a3a3e" stroke-width="6.6" fill="#fff" stroke-linejoin="round" stroke-linecap="round"><path d="M224 240 L212 248 L210 365 L224 375 Z" fill="#ddd"/><path d="M226 208 L226 697 L558 893 L584 893 L768 792 L810 700 L810 285 L584 412 L558 412 Z" stroke="none"/><path d="M226 210 L226 697 L558 893 L584 893 L768 792 M810 282 L810 376" fill="none"/><path d="M442 72 Q458 62 474 70 L804 262 Q816 272 804 282 L590 402 Q572 412 554 402 L232 214 Q218 204 232 194 Z"/><path d="M558 410 L558 893 M584 410 L584 893" fill="none"/><ellipse cx="440" cy="95" rx="14" ry="9" stroke-width="5"/><ellipse cx="265" cy="195" rx="14" ry="9" stroke-width="5"/><ellipse cx="596" cy="387" rx="14" ry="9" stroke-width="5"/><ellipse cx="768" cy="287" rx="14" ry="9" stroke-width="5"/><ellipse cx="392" cy="362" rx="12" ry="18" fill="#6a6a6e" stroke-width="5" transform="rotate(-12 392 362)"/><path d="M603 486 L633 439 L765 362 L788 377 L918 433 L800 700 L759 716 L624 627 L603 609 Z"/><path d="M603 609 L603 486 L633 439 L765 362 L781 372 L652 450 L622 498 L620 622 Z" fill="#58585c" stroke="#58585c" stroke-width="5"/><path d="M652 450 L818 536 M622 506 L783 604 M620 624 L759 716 M781 372 L918 433" fill="none"/><ellipse cx="936" cy="637" rx="153" ry="247" transform="rotate(28.6 936 637)"/><ellipse cx="946" cy="634" rx="153" ry="247" transform="rotate(28.6 946 634)"/><ellipse cx="945" cy="636" rx="101" ry="172" transform="rotate(30 945 636)" stroke-width="8"/><ellipse cx="952" cy="634" rx="93" ry="163" transform="rotate(30 952 634)" stroke-width="4"/><ellipse cx="1056" cy="450" rx="10" ry="15" transform="rotate(28 1056 450)" stroke-width="5"/><ellipse cx="840" cy="575" rx="10" ry="15" transform="rotate(28 840 575)" stroke-width="5"/><ellipse cx="1056" cy="701" rx="10" ry="15" transform="rotate(28 1056 701)" stroke-width="5"/><ellipse cx="840" cy="826" rx="10" ry="15" transform="rotate(28 840 826)" stroke-width="5"/><path d="M860 686 C868 610 907 548 977 527 C1013 523 1035 552 1041 580 L1047 582 L1017 634 L987 608 L1004 600 C994 570 975 560 959 565 C927 580 903 630 897 672 Z" stroke="#111" stroke-width="16" fill="#fff" stroke-linejoin="miter"/><path d="M322 463 L448 538 L490 592 L490 762 L440 784 L318 712 L275 668 L275 495 Z"/><path d="M275 497 L305 478 L452 565 L490 592 M305 478 L322 463 M452 565 L452 778" fill="none"/><ellipse cx="372" cy="632" rx="58" ry="78" transform="rotate(-12 372 632)" stroke="#6e6e72" stroke-width="10"/><ellipse cx="372" cy="632" rx="46" ry="65" transform="rotate(-12 372 632)"/><g transform="translate(0 0)"><path d="M146 712 L345 592 Q395 600 400 690 L196 800 Z"/><ellipse cx="165" cy="757" rx="42" ry="50" transform="rotate(-15 165 757)"/><path d="M225 672 L262 650 L266 660 L230 682 Z" fill="#888" stroke-width="4"/><path d="M46 690 C60 640 100 612 140 618 C200 630 250 720 270 820 L279 819 L242 854 L207 801 L217 799 C200 740 165 690 125 676 C105 672 95 690 92 722 Z" stroke="#111" stroke-width="16" fill="#fff" stroke-linejoin="miter"/></g></g>
<g transform="translate(998 184) scale(0.14004)" stroke="#3a3a3e" stroke-width="6.6" fill="#fff" stroke-linejoin="round" stroke-linecap="round"><path d="M806 322 L866 288 Q900 290 908 335 Q912 372 888 392 L820 420 Z"/><ellipse cx="884" cy="340" rx="25" ry="50" transform="rotate(-15 884 340)"/><path d="M812 312 L870 284 M822 330 L878 300" fill="none" stroke-width="5"/><path d="M224 240 L212 248 L210 365 L224 375 Z" fill="#ddd"/><path d="M226 208 L226 697 L558 893 L584 893 L768 792 L810 700 L810 285 L584 412 L558 412 Z" stroke="none"/><path d="M226 210 L226 697 L558 893 L584 893 L768 792 M810 282 L810 376" fill="none"/><path d="M442 72 Q458 62 474 70 L804 262 Q816 272 804 282 L590 402 Q572 412 554 402 L232 214 Q218 204 232 194 Z"/><path d="M558 410 L558 893 M584 410 L584 893" fill="none"/><ellipse cx="440" cy="95" rx="14" ry="9" stroke-width="5"/><ellipse cx="265" cy="195" rx="14" ry="9" stroke-width="5"/><ellipse cx="596" cy="387" rx="14" ry="9" stroke-width="5"/><ellipse cx="768" cy="287" rx="14" ry="9" stroke-width="5"/><ellipse cx="392" cy="362" rx="12" ry="18" fill="#6a6a6e" stroke-width="5" transform="rotate(-12 392 362)"/><path d="M603 486 L633 439 L765 362 L788 377 L918 433 L800 700 L759 716 L624 627 L603 609 Z"/><path d="M603 609 L603 486 L633 439 L765 362 L781 372 L652 450 L622 498 L620 622 Z" fill="#58585c" stroke="#58585c" stroke-width="5"/><path d="M652 450 L818 536 M622 506 L783 604 M620 624 L759 716 M781 372 L918 433" fill="none"/><ellipse cx="936" cy="637" rx="153" ry="247" transform="rotate(28.6 936 637)"/><ellipse cx="946" cy="634" rx="153" ry="247" transform="rotate(28.6 946 634)"/><ellipse cx="945" cy="636" rx="101" ry="172" transform="rotate(30 945 636)" stroke-width="8"/><ellipse cx="952" cy="634" rx="93" ry="163" transform="rotate(30 952 634)" stroke-width="4"/><ellipse cx="1056" cy="450" rx="10" ry="15" transform="rotate(28 1056 450)" stroke-width="5"/><ellipse cx="840" cy="575" rx="10" ry="15" transform="rotate(28 840 575)" stroke-width="5"/><ellipse cx="1056" cy="701" rx="10" ry="15" transform="rotate(28 1056 701)" stroke-width="5"/><ellipse cx="840" cy="826" rx="10" ry="15" transform="rotate(28 840 826)" stroke-width="5"/><path d="M860 686 C868 610 907 548 977 527 C1013 523 1035 552 1041 580 L1047 582 L1017 634 L987 608 L1004 600 C994 570 975 560 959 565 C927 580 903 630 897 672 Z" stroke="#111" stroke-width="16" fill="#fff" stroke-linejoin="miter"/><ellipse cx="700" cy="800" rx="10" ry="15" fill="#6a6a6e" stroke-width="5" transform="rotate(25 700 800)"/><path d="M290 418 L484 528 L520 584 L520 800 L482 830 L245 696 L245 452 Z"/><path d="M290 418 L484 528 L520 584 L520 800" fill="none" stroke="#58585c" stroke-width="12"/><path d="M245 452 L275 436 L468 545 L496 588 L496 818" fill="none"/><ellipse cx="268" cy="470" rx="15" ry="18" stroke-width="6.5"/><ellipse cx="458" cy="580" rx="15" ry="18" stroke-width="6.5"/><ellipse cx="268" cy="695" rx="15" ry="18" stroke-width="6.5"/><ellipse cx="458" cy="800" rx="15" ry="18" stroke-width="6.5"/><path d="M226 540 L218 548 L226 562 M226 690 L218 700" fill="none"/><path d="M794 214 C800 165 850 140 895 158 C955 185 1000 270 1018 350 L1026 347 L986 386 L944 330 L956 328 C940 270 905 220 872 208 C850 204 838 222 834 252 Z" stroke="#111" stroke-width="16" fill="#fff" stroke-linejoin="miter"/></g>
<g transform="translate(994 328) scale(0.14004)" stroke="#3a3a3e" stroke-width="6.6" fill="#fff" stroke-linejoin="round" stroke-linecap="round"><path d="M806 322 L866 288 Q900 290 908 335 Q912 372 888 392 L820 420 Z"/><ellipse cx="884" cy="340" rx="25" ry="50" transform="rotate(-15 884 340)"/><path d="M812 312 L870 284 M822 330 L878 300" fill="none" stroke-width="5"/><path d="M224 240 L212 248 L210 365 L224 375 Z" fill="#ddd"/><path d="M226 208 L226 697 L558 893 L584 893 L768 792 L810 700 L810 285 L584 412 L558 412 Z" stroke="none"/><path d="M226 210 L226 697 L558 893 L584 893 L768 792 M810 282 L810 376" fill="none"/><path d="M442 72 Q458 62 474 70 L804 262 Q816 272 804 282 L590 402 Q572 412 554 402 L232 214 Q218 204 232 194 Z"/><path d="M558 410 L558 893 M584 410 L584 893" fill="none"/><ellipse cx="440" cy="95" rx="14" ry="9" stroke-width="5"/><ellipse cx="265" cy="195" rx="14" ry="9" stroke-width="5"/><ellipse cx="596" cy="387" rx="14" ry="9" stroke-width="5"/><ellipse cx="768" cy="287" rx="14" ry="9" stroke-width="5"/><ellipse cx="392" cy="362" rx="12" ry="18" fill="#6a6a6e" stroke-width="5" transform="rotate(-12 392 362)"/><path d="M603 486 L633 439 L765 362 L788 377 L918 433 L800 700 L759 716 L624 627 L603 609 Z"/><path d="M603 609 L603 486 L633 439 L765 362 L781 372 L652 450 L622 498 L620 622 Z" fill="#58585c" stroke="#58585c" stroke-width="5"/><path d="M652 450 L818 536 M622 506 L783 604 M620 624 L759 716 M781 372 L918 433" fill="none"/><ellipse cx="936" cy="637" rx="153" ry="247" transform="rotate(28.6 936 637)"/><ellipse cx="946" cy="634" rx="153" ry="247" transform="rotate(28.6 946 634)"/><ellipse cx="945" cy="636" rx="101" ry="172" transform="rotate(30 945 636)" stroke-width="8"/><ellipse cx="952" cy="634" rx="93" ry="163" transform="rotate(30 952 634)" stroke-width="4"/><ellipse cx="1056" cy="450" rx="10" ry="15" transform="rotate(28 1056 450)" stroke-width="5"/><ellipse cx="840" cy="575" rx="10" ry="15" transform="rotate(28 840 575)" stroke-width="5"/><ellipse cx="1056" cy="701" rx="10" ry="15" transform="rotate(28 1056 701)" stroke-width="5"/><ellipse cx="840" cy="826" rx="10" ry="15" transform="rotate(28 840 826)" stroke-width="5"/><path d="M860 686 C868 610 907 548 977 527 C1013 523 1035 552 1041 580 L1047 582 L1017 634 L987 608 L1004 600 C994 570 975 560 959 565 C927 580 903 630 897 672 Z" stroke="#111" stroke-width="16" fill="#fff" stroke-linejoin="miter"/><ellipse cx="700" cy="800" rx="10" ry="15" fill="#6a6a6e" stroke-width="5" transform="rotate(25 700 800)"/><path d="M290 418 L484 528 L520 584 L520 800 L482 830 L245 696 L245 452 Z"/><path d="M290 418 L484 528 L520 584 L520 800" fill="none" stroke="#58585c" stroke-width="12"/><path d="M245 452 L275 436 L468 545 L496 588 L496 818" fill="none"/><ellipse cx="268" cy="470" rx="15" ry="18" stroke-width="6.5"/><ellipse cx="458" cy="580" rx="15" ry="18" stroke-width="6.5"/><ellipse cx="268" cy="695" rx="15" ry="18" stroke-width="6.5"/><ellipse cx="458" cy="800" rx="15" ry="18" stroke-width="6.5"/><path d="M226 540 L218 548 L226 562 M226 690 L218 700" fill="none"/><ellipse cx="365" cy="628" rx="55" ry="76" transform="rotate(-12 365 628)" stroke="#6e6e72" stroke-width="10"/><ellipse cx="365" cy="628" rx="44" ry="63" transform="rotate(-12 365 628)"/><g transform="translate(18 -12)"><path d="M146 712 L345 592 Q395 600 400 690 L196 800 Z"/><ellipse cx="165" cy="757" rx="42" ry="50" transform="rotate(-15 165 757)"/><path d="M225 672 L262 650 L266 660 L230 682 Z" fill="#888" stroke-width="4"/><path d="M46 690 C60 640 100 612 140 618 C200 630 250 720 270 820 L279 819 L242 854 L207 801 L217 799 C200 740 165 690 125 676 C105 672 95 690 92 722 Z" stroke="#111" stroke-width="16" fill="#fff" stroke-linejoin="miter"/></g><path d="M794 214 C800 165 850 140 895 158 C955 185 1000 270 1018 350 L1026 347 L986 386 L944 330 L956 328 C940 270 905 220 872 208 C850 204 838 222 834 252 Z" stroke="#111" stroke-width="16" fill="#fff" stroke-linejoin="miter"/></g>
</g>
<rect x="10.75" y="556.55" width="1188.3" height="388.0" fill="none" stroke="#1d1d20" stroke-width="1.7"/>
<line x1="70.3" y1="556.5" x2="70.3" y2="944.5" stroke="#1d1d20" stroke-width="1.5"/>
<line x1="108.9" y1="557.4" x2="108.9" y2="943.8" stroke="#77777b" stroke-width="1.7"/>
<line x1="368.8" y1="557.4" x2="368.8" y2="943.8" stroke="#77777b" stroke-width="1.7"/>
</svg>
<h2>STYLE BMQ, BM, B DIMENSIONS (Inches)</h2>
<table class="dim">
<colgroup><col style="width:59.6px"><col style="width:38.5px"><col style="width:38.8px"><col style="width:43.8px"><col style="width:44.2px"><col style="width:43px"><col style="width:42px"><col style="width:48.7px"><col style="width:48.4px"><col style="width:42px"><col style="width:86.8px"><col style="width:37px"><col style="width:43px"><col style="width:41.1px"><col style="width:43.2px"><col style="width:45.7px"><col style="width:45px"><col style="width:44.5px"><col style="width:44.9px"><col style="width:44.6px"><col style="width:51.3px"><col style="width:41.9px"><col style="width:82px"><col style="width:88.4px"></colgroup>
<thead><tr style="height:58px">
<th><div class="h" style="top:21.7px"><span class="t" style="left:-2.9px;position:relative">Size</span></div></th>
<th><div class="h" style="top:21.7px"><span class="t" style="left:-3px;position:relative">A</span></div></th>
<th><div class="h" style="top:21.7px"><span class="t" style="left:-1.9px;position:relative">B</span></div></th>
<th><div class="h" style="top:21.7px"><span class="t" style="left:0.7px;position:relative">C</span></div></th>
<th><div class="h" style="top:21.7px"><span class="t" style="left:1px;position:relative">D</span></div></th>
<th><div class="h" style="top:21.7px"><span class="t" style="left:-3px;position:relative">CD</span></div></th>
<th><div class="h" style="top:21.7px"><span class="t" style="left:-1px;position:relative">F</span></div></th>
<th><div class="h" style="top:21.7px"><span class="t" style="left:-7.2px;position:relative">FA</span></div><div class="h dn" style="top:21.41px"><span class="t" style="left:8.4px;position:relative">▼</span></div></th>
<th><div class="h" style="top:21.7px"><span class="t" style="left:-6.75px;position:relative">FZ</span></div><div class="h dn" style="top:21.41px"><span class="t" style="left:8.3px;position:relative">▼</span></div></th>
<th><div class="h" style="top:21.7px"><span class="t" style="left:-0.9px;position:relative">G</span></div></th>
<th colspan="2"><div class="h" style="top:11.6px"><span class="t" style="left:1.8px;position:relative">H</span></div><div class="h sm" style="top:41.6px;right:37px"><span class="t" style="left:0.1px;position:relative">Tap Size</span></div><div class="h sm" style="top:41.6px;left:86.8px"><span class="t" style="left:-0.9px;position:relative">Depth</span></div><i class="div" style="left:86.3px"></i></th>
<th><div class="h" style="top:21.7px"><span class="t" style="left:0.3px;position:relative">I</span></div></th>
<th><div class="h" style="top:21.7px"><span class="t" style="left:-1.5px;position:relative">J</span></div></th>
<th><div class="h" style="top:21.7px"><span class="t" style="left:0.8px;position:relative">K</span></div></th>
<th><div class="h" style="top:21.7px"><span class="t">L</span></div></th>
<th><div class="h" style="top:21.7px"><span class="t" style="left:-0.5px;position:relative">M</span></div></th>
<th><div class="h" style="top:21.7px"><span class="t" style="left:-1px;position:relative">N</span></div></th>
<th><div class="h" style="top:21.7px"><span class="t" style="left:-1.3px;position:relative">O</span></div></th>
<th><div class="h" style="top:21.7px"><span class="t" style="left:0.4px;position:relative">O*</span></div></th>
<th><div class="h" style="top:6.1px"><span class="t" style="left:-1px;position:relative">T</span></div><div class="h tol" style="top:25.57px"><span class="t" style="left:-1px;position:relative">+0.000</span></div><div class="h tol" style="top:41.87px"><span class="t" style="left:-1px;position:relative">-0.0015</span></div></th>
<th><div class="h" style="top:6.1px"><span class="t" style="left:-0.5px;position:relative">U</span></div><div class="h tol" style="top:25.57px"><span class="t" style="left:-0.5px;position:relative">+0.000</span></div><div class="h tol" style="top:41.87px"><span class="t" style="left:-0.5px;position:relative">-0.0015</span></div></th>
<th><div class="h w" style="top:16.5px"><span class="t" style="left:0.3px;position:relative">Input</span></div><div class="h w" style="top:31.5px"><span class="t" style="left:0.1px;position:relative">Key<span class="ast">❉</span></span></div></th>
<th><div class="h w" style="top:16.5px"><span class="t" style="left:-1.3px;position:relative">Output</span></div><div class="h w" style="top:31.5px"><span class="t" style="left:-1px;position:relative">Key</span></div></th>
</tr></thead><tbody>
<tr class="s f" style="height:28px">
<td class="l"><div class="c"><span class="t">GR813</span></div></td>
<td><div class="c"><span class="t" style="left:-3.3px;position:relative">2.82</span></div></td>
<td><div class="c"><span class="t" style="left:-2.4px;position:relative">3.80</span></div></td>
<td><div class="c"><span class="t" style="left:0.6px;position:relative">4.66</span></div></td>
<td><div class="c"><span class="t" style="left:1.1px;position:relative">1.72</span></div></td>
<td><div class="c"><span class="t" style="left:-3.2px;position:relative">1.33</span></div></td>
<td><div class="c"><span class="t" style="left:-1.1px;position:relative">2.00</span></div></td>
<td><div class="c"><span class="t">N/A</span></div></td>
<td><div class="c"><span class="t" style="left:0.5px;position:relative">N/A</span></div></td>
<td><div class="c"><span class="t" style="left:-0.9px;position:relative">1.00</span></div></td>
<td><div class="c"><span class="t" style="left:-2px;position:relative">5/16-18 UNC</span></div></td>
<td><div class="c"><span class="t" style="left:-0.9px;position:relative">.50</span></div></td>
<td><div class="c"><span class="t" style="left:0.4px;position:relative">2.61</span></div></td>
<td><div class="c"><span class="t" style="left:-1.6px;position:relative">3.25</span></div></td>
<td><div class="c"><span class="t" style="left:0.8px;position:relative">1.63</span></div></td>
<td><div class="c"><span class="t">3.82</span></div></td>
<td><div class="c"><span class="t" style="left:-0.5px;position:relative">1.76</span></div></td>
<td><div class="c"><span class="t" style="left:-1px;position:relative">4.00</span></div></td>
<td><div class="c"><span class="t" style="left:-1.4px;position:relative">2.16</span></div></td>
<td><div class="c"><span class="t" style="left:0.4px;position:relative">1.94</span></div></td>
<td><div class="c"><span class="t" style="left:-1px;position:relative">.625</span></div></td>
<td><div class="c"><span class="t" style="left:-0.5px;position:relative">.500</span></div></td>
<td><div class="c"><span class="t">1/8 X 1.00</span></div></td>
<td><div class="c"><span class="t" style="left:-1.1px;position:relative">3/16 X 1.50</span></div></td>
</tr>
<tr style="height:23px">
<td class="l"><div class="c"><span class="t">GR815</span></div></td>
<td><div class="c"><span class="t" style="left:-3.3px;position:relative">3.44</span></div></td>
<td><div class="c"><span class="t" style="left:-2.4px;position:relative">4.88</span></div></td>
<td><div class="c"><span class="t" style="left:0.6px;position:relative">5.38</span></div></td>
<td><div class="c"><span class="t" style="left:1.1px;position:relative">1.91</span></div></td>
<td><div class="c"><span class="t" style="left:-3.2px;position:relative">1.54</span></div></td>
<td><div class="c"><span class="t" style="left:-1.1px;position:relative">2.75</span></div></td>
<td><div class="c"><span class="t">N/A</span></div></td>
<td><div class="c"><span class="t" style="left:0.5px;position:relative">N/A</span></div></td>
<td><div class="c"><span class="t" style="left:-0.9px;position:relative">1.38</span></div></td>
<td><div class="c"><span class="t" style="left:-2px;position:relative">5/16-18 UNC</span></div></td>
<td><div class="c"><span class="t" style="left:-0.9px;position:relative">.63</span></div></td>
<td><div class="c"><span class="t" style="left:0.4px;position:relative">3.14</span></div></td>
<td><div class="c"><span class="t" style="left:-1.6px;position:relative">4.19</span></div></td>
<td><div class="c"><span class="t" style="left:0.8px;position:relative">2.09</span></div></td>
<td><div class="c"><span class="t">4.35</span></div></td>
<td><div class="c"><span class="t" style="left:-0.5px;position:relative">1.76</span></div></td>
<td><div class="c"><span class="t" style="left:-1px;position:relative">4.31</span></div></td>
<td><div class="c"><span class="t" style="left:-1.4px;position:relative">2.11</span></div></td>
<td><div class="c"><span class="t" style="left:0.4px;position:relative">1.90</span></div></td>
<td><div class="c"><span class="t" style="left:-1px;position:relative">.750</span></div></td>
<td><div class="c"><span class="t" style="left:-0.5px;position:relative">.625</span></div></td>
<td><div class="c"><span class="t">3/16 X 1.38</span></div></td>
<td><div class="c"><span class="t" style="left:-1.1px;position:relative">3/16 X 1.50</span></div></td>
</tr>
<tr class="s" style="height:23px">
<td class="l"><div class="c"><span class="t">GR818</span></div></td>
<td><div class="c"><span class="t" style="left:-3.3px;position:relative">3.56</span></div></td>
<td><div class="c"><span class="t" style="left:-2.4px;position:relative">5.06</span></div></td>
<td><div class="c"><span class="t" style="left:0.6px;position:relative">5.75</span></div></td>
<td><div class="c"><span class="t" style="left:1.1px;position:relative">2.06</span></div></td>
<td><div class="c"><span class="t" style="left:-3.2px;position:relative">1.75</span></div></td>
<td><div class="c"><span class="t" style="left:-1.1px;position:relative">2.75</span></div></td>
<td><div class="c"><span class="t">N/A</span></div></td>
<td><div class="c"><span class="t" style="left:0.5px;position:relative">N/A</span></div></td>
<td><div class="c"><span class="t" style="left:-0.9px;position:relative">1.38</span></div></td>
<td><div class="c"><span class="t" style="left:-2px;position:relative">5/16-18 UNC</span></div></td>
<td><div class="c"><span class="t" style="left:-0.9px;position:relative">.63</span></div></td>
<td><div class="c"><span class="t" style="left:0.4px;position:relative">3.24</span></div></td>
<td><div class="c"><span class="t" style="left:-1.6px;position:relative">4.19</span></div></td>
<td><div class="c"><span class="t" style="left:0.8px;position:relative">2.09</span></div></td>
<td><div class="c"><span class="t">4.45</span></div></td>
<td><div class="c"><span class="t" style="left:-0.5px;position:relative">1.76</span></div></td>
<td><div class="c"><span class="t" style="left:-1px;position:relative">4.31</span></div></td>
<td><div class="c"><span class="t" style="left:-1.4px;position:relative">2.05</span></div></td>
<td><div class="c"><span class="t" style="left:0.4px;position:relative">1.84</span></div></td>
<td><div class="c"><span class="t" style="left:-1px;position:relative">.875</span></div></td>
<td><div class="c"><span class="t" style="left:-0.5px;position:relative">.625</span></div></td>
<td><div class="c"><span class="t">3/16 X 1.38</span></div></td>
<td><div class="c"><span class="t" style="left:-1.1px;position:relative">3/16 X 1.38</span></div></td>
</tr>
<tr style="height:23px">
<td class="l"><div class="c"><span class="t">GR821</span></div></td>
<td><div class="c"><span class="t" style="left:-3.3px;position:relative">3.81</span></div></td>
<td><div class="c"><span class="t" style="left:-2.4px;position:relative">5.80</span></div></td>
<td><div class="c"><span class="t" style="left:0.6px;position:relative">6.38</span></div></td>
<td><div class="c"><span class="t" style="left:1.1px;position:relative">2.28</span></div></td>
<td><div class="c"><span class="t" style="left:-3.2px;position:relative">2.06</span></div></td>
<td class="y"><div class="c"><span class="t tri" style="left:-1.1px;position:relative">▲</span></div></td>
<td><div class="c"><span class="t">N/A</span></div></td>
<td><div class="c"><span class="t" style="left:0.5px;position:relative">N/A</span></div></td>
<td><div class="c"><span class="t" style="left:-0.9px;position:relative">1.44</span></div></td>
<td><div class="c"><span class="t" style="left:-2px;position:relative">5/16-18 UNC</span></div></td>
<td><div class="c"><span class="t" style="left:-0.9px;position:relative">.63</span></div></td>
<td><div class="c"><span class="t" style="left:0.4px;position:relative">3.61</span></div></td>
<td class="y"><div class="c"><span class="t tri" style="left:-1.6px;position:relative">▲</span></div></td>
<td><div class="c"><span class="t" style="left:0.8px;position:relative">2.50</span></div></td>
<td><div class="c"><span class="t">4.82</span></div></td>
<td><div class="c"><span class="t" style="left:-0.5px;position:relative">1.76</span></div></td>
<td><div class="c"><span class="t" style="left:-1px;position:relative">4.68</span></div></td>
<td><div class="c"><span class="t" style="left:-1.4px;position:relative">2.29</span></div></td>
<td><div class="c"><span class="t" style="left:0.4px;position:relative">2.08</span></div></td>
<td><div class="c"><span class="t" style="left:-1px;position:relative">1.000</span></div></td>
<td><div class="c"><span class="t" style="left:-0.5px;position:relative">.625</span></div></td>
<td><div class="c"><span class="t">3/16 X 1.38</span></div></td>
<td><div class="c"><span class="t" style="left:-1.1px;position:relative">1/4 X 1.44</span></div></td>
</tr>
<tr class="s" style="height:24px">
<td class="l"><div class="c"><span class="t">GR824</span></div></td>
<td><div class="c"><span class="t" style="left:-3.3px;position:relative">4.06</span></div></td>
<td><div class="c"><span class="t" style="left:-2.4px;position:relative">6.12</span></div></td>
<td><div class="c"><span class="t" style="left:0.6px;position:relative">6.94</span></div></td>
<td><div class="c"><span class="t" style="left:1.1px;position:relative">2.50</span></div></td>
<td><div class="c"><span class="t" style="left:-3.2px;position:relative">2.38</span></div></td>
<td><div class="c"><span class="t" style="left:-1.1px;position:relative">2.88</span></div></td>
<td><div class="c"><span class="t">N/A</span></div></td>
<td><div class="c"><span class="t" style="left:0.5px;position:relative">N/A</span></div></td>
<td><div class="c"><span class="t" style="left:-0.9px;position:relative">1.44</span></div></td>
<td><div class="c"><span class="t" style="left:-2px;position:relative">3/8-16 UNC</span></div></td>
<td><div class="c"><span class="t" style="left:-0.9px;position:relative">.69</span></div></td>
<td><div class="c"><span class="t" style="left:0.4px;position:relative">3.77</span></div></td>
<td><div class="c"><span class="t" style="left:-1.6px;position:relative">5.00</span></div></td>
<td><div class="c"><span class="t" style="left:0.8px;position:relative">2.50</span></div></td>
<td><div class="c"><span class="t">5.51</span></div></td>
<td><div class="c"><span class="t" style="left:-0.5px;position:relative">2.38</span></div></td>
<td><div class="c"><span class="t" style="left:-1px;position:relative">5.14</span></div></td>
<td><div class="c"><span class="t" style="left:-1.4px;position:relative">2.66</span></div></td>
<td><div class="c"><span class="t" style="left:0.4px;position:relative">2.44</span></div></td>
<td><div class="c"><span class="t" style="left:-1px;position:relative">1.125</span></div></td>
<td><div class="c"><span class="t" style="left:-0.5px;position:relative">.750</span></div></td>
<td><div class="c"><span class="t">3/16 X 1.63</span></div></td>
<td><div class="c"><span class="t" style="left:-1.1px;position:relative">1/4 X 1.75</span></div></td>
</tr>
<tr style="height:23px">
<td class="l"><div class="c"><span class="t">GR826</span></div></td>
<td><div class="c"><span class="t" style="left:-3.3px;position:relative">4.84</span></div></td>
<td><div class="c"><span class="t" style="left:-2.4px;position:relative">7.12</span></div></td>
<td><div class="c"><span class="t" style="left:0.6px;position:relative">8.00</span></div></td>
<td><div class="c"><span class="t" style="left:1.1px;position:relative">2.94</span></div></td>
<td><div class="c"><span class="t" style="left:-3.2px;position:relative">2.63</span></div></td>
<td><div class="c"><span class="t" style="left:-1.1px;position:relative">3.38</span></div></td>
<td><div class="c"><span class="t">N/A</span></div></td>
<td><div class="c"><span class="t" style="left:0.5px;position:relative">N/A</span></div></td>
<td><div class="c"><span class="t" style="left:-0.9px;position:relative">1.69</span></div></td>
<td><div class="c"><span class="t" style="left:-2px;position:relative">3/8-16 UNC</span></div></td>
<td><div class="c"><span class="t" style="left:-0.9px;position:relative">.69</span></div></td>
<td><div class="c"><span class="t" style="left:0.4px;position:relative">4.34</span></div></td>
<td><div class="c"><span class="t" style="left:-1.6px;position:relative">6.38</span></div></td>
<td><div class="c"><span class="t" style="left:0.8px;position:relative">3.19</span></div></td>
<td><div class="c"><span class="t">6.07</span></div></td>
<td><div class="c"><span class="t" style="left:-0.5px;position:relative">2.38</span></div></td>
<td><div class="c"><span class="t" style="left:-1px;position:relative">5.63</span></div></td>
<td><div class="c"><span class="t" style="left:-1.4px;position:relative">2.73</span></div></td>
<td><div class="c"><span class="t" style="left:0.4px;position:relative">2.52</span></div></td>
<td class="y"><div class="c"><span class="t tri" style="left:-1px;position:relative">▲</span></div></td>
<td><div class="c"><span class="t" style="left:-0.5px;position:relative">.750</span></div></td>
<td><div class="c"><span class="t">3/16 X 1.63</span></div></td>
<td><div class="c"><span class="t" style="left:-1.1px;position:relative">1/4 X 1.75</span></div></td>
</tr>
<tr class="s" style="height:23px">
<td class="l"><div class="c"><span class="t">GR830</span></div></td>
<td><div class="c"><span class="t" style="left:-3.3px;position:relative">5.25</span></div></td>
<td><div class="c"><span class="t" style="left:-2.4px;position:relative">8.12</span></div></td>
<td><div class="c"><span class="t" style="left:0.6px;position:relative">8.88</span></div></td>
<td><div class="c"><span class="t" style="left:1.1px;position:relative">3.25</span></div></td>
<td><div class="c"><span class="t" style="left:-3.2px;position:relative">3.00</span></div></td>
<td><div class="c"><span class="t" style="left:-1.1px;position:relative">4.00</span></div></td>
<td><div class="c"><span class="t">N/A</span></div></td>
<td><div class="c"><span class="t" style="left:0.5px;position:relative">N/A</span></div></td>
<td><div class="c"><span class="t" style="left:-0.9px;position:relative">2.00</span></div></td>
<td><div class="c"><span class="t" style="left:-2px;position:relative">7/16-14 UNC</span></div></td>
<td><div class="c"><span class="t" style="left:-0.9px;position:relative">.88</span></div></td>
<td><div class="c"><span class="t" style="left:0.4px;position:relative">4.84</span></div></td>
<td><div class="c"><span class="t" style="left:-1.6px;position:relative">7.00</span></div></td>
<td><div class="c"><span class="t" style="left:0.8px;position:relative">3.50</span></div></td>
<td><div class="c"><span class="t">6.57</span></div></td>
<td><div class="c"><span class="t" style="left:-0.5px;position:relative">2.38</span></div></td>
<td><div class="c"><span class="t" style="left:-1px;position:relative">6.75</span></div></td>
<td><div class="c"><span class="t" style="left:-1.4px;position:relative">3.60</span></div></td>
<td><div class="c"><span class="t" style="left:0.4px;position:relative">3.36</span></div></td>
<td><div class="c"><span class="t" style="left:-1px;position:relative">1.250</span></div></td>
<td><div class="c"><span class="t" style="left:-0.5px;position:relative">.875</span></div></td>
<td><div class="c"><span class="t">3/16 X 1.63</span></div></td>
<td><div class="c"><span class="t" style="left:-1.1px;position:relative">1/4 X 1.75</span></div></td>
</tr>
<tr style="height:23px">
<td class="l"><div class="c"><span class="t">GR832</span></div></td>
<td><div class="c"><span class="t" style="left:-3.3px;position:relative">5.75</span></div></td>
<td><div class="c"><span class="t" style="left:-2.4px;position:relative">8.50</span></div></td>
<td><div class="c"><span class="t" style="left:0.6px;position:relative">9.38</span></div></td>
<td><div class="c"><span class="t" style="left:1.1px;position:relative">3.50</span></div></td>
<td><div class="c"><span class="t" style="left:-3.2px;position:relative">3.25</span></div></td>
<td><div class="c"><span class="t" style="left:-1.1px;position:relative">4.00</span></div></td>
<td><div class="c"><span class="t">N/A</span></div></td>
<td><div class="c"><span class="t" style="left:0.5px;position:relative">N/A</span></div></td>
<td><div class="c"><span class="t" style="left:-0.9px;position:relative">2.00</span></div></td>
<td><div class="c"><span class="t" style="left:-2px;position:relative">7/16-14 UNC</span></div></td>
<td><div class="c"><span class="t" style="left:-0.9px;position:relative">.88</span></div></td>
<td><div class="c"><span class="t" style="left:0.4px;position:relative">5.02</span></div></td>
<td><div class="c"><span class="t" style="left:-1.6px;position:relative">7.50</span></div></td>
<td><div class="c"><span class="t" style="left:0.8px;position:relative">3.75</span></div></td>
<td><div class="c"><span class="t">6.76</span></div></td>
<td><div class="c"><span class="t" style="left:-0.5px;position:relative">2.38</span></div></td>
<td><div class="c"><span class="t" style="left:-1px;position:relative">7.06</span></div></td>
<td><div class="c"><span class="t" style="left:-1.4px;position:relative">3.66</span></div></td>
<td><div class="c"><span class="t" style="left:0.4px;position:relative">3.42</span></div></td>
<td class="y"><div class="c"><span class="t tri" style="left:-1px;position:relative">▲</span></div></td>
<td><div class="c"><span class="t" style="left:-0.5px;position:relative">.875</span></div></td>
<td><div class="c"><span class="t">3/16 X 1.63</span></div></td>
<td class="y"><div class="c"><span class="t tri" style="left:-1.1px;position:relative">▲</span></div></td>
</tr>
<tr class="s" style="height:24px">
<td class="l"><div class="c"><span class="t">GR842</span></div></td>
<td><div class="c"><span class="t" style="left:-3.3px;position:relative">6.13</span></div></td>
<td><div class="c"><span class="t" style="left:-2.4px;position:relative">10.25</span></div></td>
<td><div class="c"><span class="t" style="left:0.6px;position:relative">11.38</span></div></td>
<td><div class="c"><span class="t" style="left:1.1px;position:relative">4.44</span></div></td>
<td><div class="c"><span class="t" style="left:-3.2px;position:relative">4.25</span></div></td>
<td><div class="c"><span class="t" style="left:-1.1px;position:relative">5.00</span></div></td>
<td><div class="c"><span class="t">N/A</span></div></td>
<td><div class="c"><span class="t" style="left:0.5px;position:relative">N/A</span></div></td>
<td><div class="c"><span class="t" style="left:-0.9px;position:relative">2.50</span></div></td>
<td><div class="c"><span class="t" style="left:-2px;position:relative">5/8-11 UNC</span></div></td>
<td><div class="c"><span class="t" style="left:-0.9px;position:relative">1.00</span></div></td>
<td><div class="c"><span class="t" style="left:0.4px;position:relative">6.10</span></div></td>
<td><div class="c"><span class="t" style="left:-1.6px;position:relative">8.50</span></div></td>
<td><div class="c"><span class="t" style="left:0.8px;position:relative">4.25</span></div></td>
<td><div class="c"><span class="t">9.57</span></div></td>
<td><div class="c"><span class="t" style="left:-0.5px;position:relative">3.47</span></div></td>
<td><div class="c"><span class="t" style="left:-1px;position:relative">8.12</span></div></td>
<td><div class="c"><span class="t" style="left:-1.4px;position:relative">4.50</span></div></td>
<td><div class="c"><span class="t" style="left:0.4px;position:relative">4.21</span></div></td>
<td><div class="c"><span class="t" style="left:-1px;position:relative">1.875</span></div></td>
<td><div class="c"><span class="t" style="left:-0.5px;position:relative">1.250</span></div></td>
<td><div class="c"><span class="t">1/4 X 2.50</span></div></td>
<td><div class="c"><span class="t" style="left:-1.1px;position:relative">1/2 X 3.06</span></div></td>
</tr>
<tr style="height:23px">
<td class="l"><div class="c"><span class="t">GR852</span></div></td>
<td><div class="c"><span class="t" style="left:-3.3px;position:relative">7.19</span></div></td>
<td><div class="c"><span class="t" style="left:-2.4px;position:relative">13.00</span></div></td>
<td><div class="c"><span class="t" style="left:0.6px;position:relative">14.00</span></div></td>
<td><div class="c"><span class="t" style="left:1.1px;position:relative">5.12</span></div></td>
<td><div class="c"><span class="t" style="left:-3.2px;position:relative">5.25</span></div></td>
<td><div class="c"><span class="t" style="left:-1.1px;position:relative">5.81</span></div></td>
<td><div class="c"><span class="t">N/A</span></div></td>
<td><div class="c"><span class="t" style="left:0.5px;position:relative">N/A</span></div></td>
<td><div class="c"><span class="t" style="left:-0.9px;position:relative">2.91</span></div></td>
<td><div class="c"><span class="t" style="left:-2px;position:relative">5/8-11 UNC</span></div></td>
<td><div class="c"><span class="t" style="left:-0.9px;position:relative">1.25</span></div></td>
<td><div class="c"><span class="t" style="left:0.4px;position:relative">7.50</span></div></td>
<td><div class="c"><span class="t" style="left:-1.6px;position:relative">11.00</span></div></td>
<td><div class="c"><span class="t" style="left:0.8px;position:relative">5.50</span></div></td>
<td><div class="c"><span class="t">10.88</span></div></td>
<td><div class="c"><span class="t" style="left:-0.5px;position:relative">3.38</span></div></td>
<td><div class="c"><span class="t" style="left:-1px;position:relative">9.06</span></div></td>
<td><div class="c"><span class="t" style="left:-1.4px;position:relative">4.78</span></div></td>
<td><div class="c"><span class="t" style="left:0.4px;position:relative">4.53</span></div></td>
<td><div class="c"><span class="t" style="left:-1px;position:relative">2.000</span></div></td>
<td><div class="c"><span class="t" style="left:-0.5px;position:relative">1.250</span></div></td>
<td><div class="c"><span class="t">1/4 X 3.00</span></div></td>
<td><div class="c"><span class="t" style="left:-1.1px;position:relative">1/2 X 3.50</span></div></td>
</tr>
<tr class="s" style="height:23px">
<td class="l"><div class="c"><span class="t">GR860</span></div></td>
<td><div class="c"><span class="t" style="left:-3.3px;position:relative">8.13</span></div></td>
<td><div class="c"><span class="t" style="left:-2.4px;position:relative">14.25</span></div></td>
<td><div class="c"><span class="t" style="left:0.6px;position:relative">16.50</span></div></td>
<td><div class="c"><span class="t" style="left:1.1px;position:relative">6.50</span></div></td>
<td><div class="c"><span class="t" style="left:-3.2px;position:relative">6.00</span></div></td>
<td><div class="c"><span class="t" style="left:-1.1px;position:relative">6.38</span></div></td>
<td><div class="c"><span class="t">11.13</span></div></td>
<td><div class="c"><span class="t" style="left:0.5px;position:relative">0.33</span></div></td>
<td><div class="c"><span class="t" style="left:-0.9px;position:relative">3.19</span></div></td>
<td><div class="c"><span class="t" style="left:-2px;position:relative">5/8-11 UNC</span></div></td>
<td><div class="c"><span class="t" style="left:-0.9px;position:relative">1.00</span></div></td>
<td><div class="c"><span class="t" style="left:0.4px;position:relative">N/A</span></div></td>
<td><div class="c"><span class="t" style="left:-1.6px;position:relative">12.75</span></div></td>
<td><div class="c"><span class="t" style="left:0.8px;position:relative">6.38</span></div></td>
<td><div class="c"><span class="t">11.78</span></div></td>
<td><div class="c"><span class="t" style="left:-0.5px;position:relative">3.41</span></div></td>
<td><div class="c"><span class="t" style="left:-1px;position:relative">10.00</span></div></td>
<td><div class="c"><span class="t" style="left:-1.4px;position:relative">4.65</span></div></td>
<td><div class="c"><span class="t" style="left:0.4px;position:relative">4.65</span></div></td>
<td><div class="c"><span class="t" style="left:-1px;position:relative">2.500</span></div></td>
<td><div class="c"><span class="t" style="left:-0.5px;position:relative">1.500</span></div></td>
<td><div class="c"><span class="t">3/8 X 3.00</span></div></td>
<td><div class="c"><span class="t" style="left:-1.1px;position:relative">5/8 X 4.00</span></div></td>
</tr>
<tr style="height:23px">
<td class="l"><div class="c"><span class="t">GR870</span></div></td>
<td><div class="c"><span class="t" style="left:-3.3px;position:relative">7.63</span></div></td>
<td><div class="c"><span class="t" style="left:-2.4px;position:relative">14.88</span></div></td>
<td><div class="c"><span class="t" style="left:0.6px;position:relative">18.91</span></div></td>
<td><div class="c"><span class="t" style="left:1.1px;position:relative">7.59</span></div></td>
<td><div class="c"><span class="t" style="left:-3.2px;position:relative">7.00</span></div></td>
<td><div class="c"><span class="t" style="left:-1.1px;position:relative">5.50</span></div></td>
<td><div class="c"><span class="t">11.37</span></div></td>
<td><div class="c"><span class="t" style="left:0.5px;position:relative">0.35</span></div></td>
<td><div class="c"><span class="t" style="left:-0.9px;position:relative">2.75</span></div></td>
<td><div class="c"><span class="t" style="left:-2px;position:relative">1-8 UNC</span></div></td>
<td><div class="c"><span class="t" style="left:-0.9px;position:relative">1.56</span></div></td>
<td><div class="c"><span class="t" style="left:0.4px;position:relative">N/A</span></div></td>
<td><div class="c"><span class="t" style="left:-1.6px;position:relative">12.50</span></div></td>
<td><div class="c"><span class="t" style="left:0.8px;position:relative">6.25</span></div></td>
<td><div class="c"><span class="t">11.50</span></div></td>
<td><div class="c"><span class="t" style="left:-0.5px;position:relative">2.97</span></div></td>
<td><div class="c"><span class="t" style="left:-1px;position:relative">11.76</span></div></td>
<td><div class="c"><span class="t" style="left:-1.4px;position:relative">5.65</span></div></td>
<td><div class="c"><span class="t" style="left:0.4px;position:relative">5.65</span></div></td>
<td><div class="c"><span class="t" style="left:-1px;position:relative">2.750</span></div></td>
<td><div class="c"><span class="t" style="left:-0.5px;position:relative">1.625</span></div></td>
<td><div class="c"><span class="t">3/8 x 2.87<span class="st">**</span></span></div></td>
<td><div class="c"><span class="t" style="left:-1.1px;position:relative">5/8 x 4.00<span class="st">**</span></span></div></td>
</tr>
<tr class="s" style="height:24px">
<td class="l"><div class="c"><span class="t">GR880</span></div></td>
<td><div class="c"><span class="t" style="left:-3.3px;position:relative">8.63</span></div></td>
<td><div class="c"><span class="t" style="left:-2.4px;position:relative">17.00</span></div></td>
<td><div class="c"><span class="t" style="left:0.6px;position:relative">20.96</span></div></td>
<td><div class="c"><span class="t" style="left:1.1px;position:relative">8.86</span></div></td>
<td><div class="c"><span class="t" style="left:-3.2px;position:relative">8.00</span></div></td>
<td><div class="c"><span class="t" style="left:-1.1px;position:relative">6.50</span></div></td>
<td><div class="c"><span class="t">12.52</span></div></td>
<td><div class="c"><span class="t" style="left:0.5px;position:relative">0.57</span></div></td>
<td><div class="c"><span class="t" style="left:-0.9px;position:relative">3.25</span></div></td>
<td><div class="c"><span class="t" style="left:-2px;position:relative">1-8 UNC</span></div></td>
<td><div class="c"><span class="t" style="left:-0.9px;position:relative">1.66</span></div></td>
<td><div class="c"><span class="t" style="left:0.4px;position:relative">N/A</span></div></td>
<td><div class="c"><span class="t" style="left:-1.6px;position:relative">14.25</span></div></td>
<td><div class="c"><span class="t" style="left:0.8px;position:relative">7.13</span></div></td>
<td><div class="c"><span class="t">12.50</span></div></td>
<td><div class="c"><span class="t" style="left:-0.5px;position:relative">2.84</span></div></td>
<td><div class="c"><span class="t" style="left:-1px;position:relative">12.25</span></div></td>
<td><div class="c"><span class="t" style="left:-1.4px;position:relative">5.98</span></div></td>
<td><div class="c"><span class="t" style="left:0.4px;position:relative">5.98</span></div></td>
<td><div class="c"><span class="t" style="left:-1px;position:relative">3.000</span></div></td>
<td><div class="c"><span class="t" style="left:-0.5px;position:relative">1.875</span></div></td>
<td><div class="c"><span class="t">1/2 x 2.81<span class="st">**</span></span></div></td>
<td><div class="c"><span class="t" style="left:-1.1px;position:relative">3/4 x 4.50<span class="st">**</span></span></div></td>
</tr>
<tr style="height:23px">
<td class="l"><div class="c"><span class="t">GR8100</span></div></td>
<td><div class="c"><span class="t" style="left:-3.3px;position:relative">9.53</span></div></td>
<td><div class="c"><span class="t" style="left:-2.4px;position:relative">20.88</span></div></td>
<td><div class="c"><span class="t" style="left:0.6px;position:relative">25.47</span></div></td>
<td><div class="c"><span class="t" style="left:1.1px;position:relative">10.36</span></div></td>
<td><div class="c"><span class="t" style="left:-3.2px;position:relative">10.00</span></div></td>
<td><div class="c"><span class="t" style="left:-1.1px;position:relative">6.88</span></div></td>
<td><div class="c"><span class="t">14.69</span></div></td>
<td><div class="c"><span class="t" style="left:0.5px;position:relative">0.51</span></div></td>
<td><div class="c"><span class="t" style="left:-0.9px;position:relative">3.44</span></div></td>
<td><div class="c"><span class="t" style="left:-2px;position:relative">1-1/4 -7 UNC</span></div></td>
<td><div class="c"><span class="t" style="left:-0.9px;position:relative">2.04</span></div></td>
<td><div class="c"><span class="t" style="left:0.4px;position:relative">N/A</span></div></td>
<td><div class="c"><span class="t" style="left:-1.6px;position:relative">17.75</span></div></td>
<td><div class="c"><span class="t" style="left:0.8px;position:relative">8.88</span></div></td>
<td><div class="c"><span class="t">15.50</span></div></td>
<td><div class="c"><span class="t" style="left:-0.5px;position:relative">3.76</span></div></td>
<td><div class="c"><span class="t" style="left:-1px;position:relative">14.75</span></div></td>
<td><div class="c"><span class="t" style="left:-1.4px;position:relative">6.76</span></div></td>
<td><div class="c"><span class="t" style="left:0.4px;position:relative">6.76</span></div></td>
<td><div class="c"><span class="t" style="left:-1px;position:relative">3.750</span></div></td>
<td><div class="c"><span class="t" style="left:-0.5px;position:relative">2.250</span></div></td>
<td><div class="c"><span class="t">1/2 x 3.69<span class="st">**</span></span></div></td>
<td><div class="c"><span class="t" style="left:-1.1px;position:relative">7/8 x 5.00<span class="st">**</span></span></div></td>
</tr>
</tbody></table>
</body>
</html>
